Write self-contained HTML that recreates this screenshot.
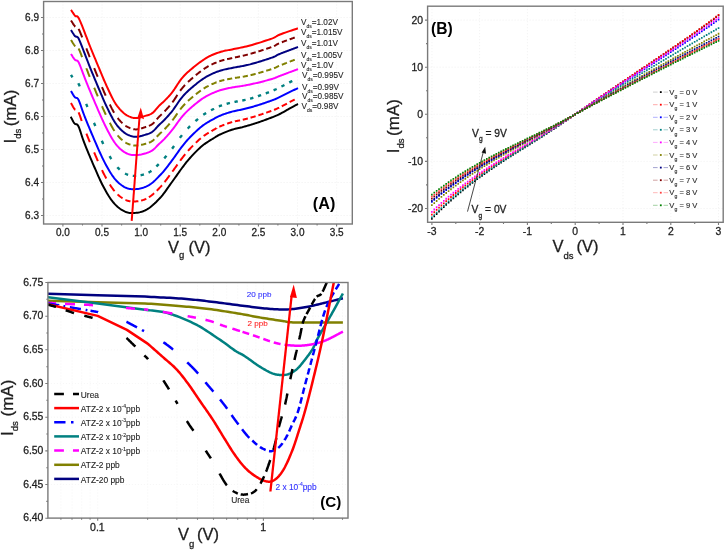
<!DOCTYPE html>
<html><head><meta charset="utf-8"><style>
html,body{margin:0;padding:0;background:#fff;}
body{width:725px;height:550px;overflow:hidden;}
svg{display:block;font-family:"Liberation Sans", sans-serif;}
svg{will-change:transform;}
</style></head><body>
<svg width="725" height="550" viewBox="0 0 725 550">
<rect width="725" height="550" fill="#fff"/>
<path d="M62.9,1.5 V224.0 M102.0,1.5 V224.0 M141.1,1.5 V224.0 M180.2,1.5 V224.0 M219.3,1.5 V224.0 M258.4,1.5 V224.0 M297.5,1.5 V224.0 M336.6,1.5 V224.0 M43.6,215.5 H352.3 M43.6,182.5 H352.3 M43.6,149.5 H352.3 M43.6,116.5 H352.3 M43.6,83.5 H352.3 M43.6,50.5 H352.3 M43.6,17.5 H352.3" stroke="#ececec" stroke-width="0.8" stroke-dasharray="1 2" fill="none"/>
<path d="M70.70,116.70 L70.93,117.12 L71.22,117.67 L71.56,118.34 L71.94,119.08 L72.36,119.88 L72.79,120.68 L73.23,121.47 L73.67,122.20 L74.10,122.86 L74.50,123.40 L74.88,123.78 L75.24,124.00 L75.61,124.10 L75.97,124.16 L76.33,124.21 L76.71,124.30 L77.09,124.50 L77.50,124.84 L77.94,125.39 L78.40,126.20 L78.88,127.25 L79.36,128.48 L79.86,129.86 L80.37,131.39 L80.90,133.04 L81.46,134.79 L82.05,136.63 L82.69,138.52 L83.37,140.45 L84.10,142.40 L84.90,144.43 L85.76,146.58 L86.67,148.84 L87.62,151.17 L88.61,153.55 L89.61,155.96 L90.62,158.36 L91.63,160.73 L92.63,163.06 L93.60,165.30 L94.56,167.50 L95.52,169.71 L96.48,171.92 L97.44,174.11 L98.40,176.28 L99.36,178.40 L100.32,180.48 L101.28,182.50 L102.24,184.44 L103.20,186.30 L104.15,188.09 L105.10,189.83 L106.05,191.52 L107.00,193.15 L107.95,194.72 L108.90,196.24 L109.85,197.68 L110.80,199.06 L111.75,200.37 L112.70,201.60 L113.66,202.76 L114.61,203.84 L115.57,204.86 L116.53,205.80 L117.49,206.68 L118.45,207.50 L119.41,208.26 L120.37,208.96 L121.34,209.61 L122.30,210.20 L123.25,210.74 L124.16,211.22 L125.07,211.65 L125.97,212.02 L126.88,212.32 L127.81,212.58 L128.77,212.77 L129.78,212.90 L130.86,212.98 L132.00,213.00 L133.23,212.98 L134.52,212.92 L135.88,212.81 L137.29,212.65 L138.73,212.43 L140.19,212.13 L141.66,211.74 L143.13,211.27 L144.58,210.69 L146.00,210.00 L147.41,209.18 L148.83,208.24 L150.26,207.19 L151.70,206.04 L153.12,204.81 L154.54,203.52 L155.95,202.18 L157.33,200.80 L158.68,199.40 L160.00,198.00 L161.29,196.55 L162.56,195.02 L163.81,193.43 L165.04,191.79 L166.25,190.12 L167.44,188.45 L168.61,186.78 L169.76,185.14 L170.89,183.54 L172.00,182.00 L173.09,180.50 L174.16,179.01 L175.21,177.53 L176.24,176.06 L177.25,174.62 L178.24,173.22 L179.21,171.84 L180.16,170.51 L181.09,169.23 L182.00,168.00 L182.86,166.85 L183.66,165.78 L184.42,164.77 L185.15,163.81 L185.88,162.88 L186.61,161.95 L187.37,161.02 L188.18,160.06 L189.05,159.06 L190.00,158.00 L191.04,156.86 L192.14,155.66 L193.31,154.42 L194.51,153.15 L195.75,151.88 L197.01,150.61 L198.27,149.37 L199.54,148.18 L200.78,147.05 L202.00,146.00 L203.23,145.02 L204.50,144.07 L205.79,143.16 L207.09,142.30 L208.38,141.47 L209.63,140.68 L210.84,139.94 L211.98,139.25 L213.04,138.60 L214.00,138.00 L214.82,137.47 L215.49,137.03 L216.06,136.66 L216.56,136.33 L217.02,136.04 L217.48,135.77 L217.97,135.50 L218.53,135.20 L219.20,134.88 L220.00,134.50 L220.94,134.07 L221.98,133.61 L223.09,133.12 L224.27,132.62 L225.49,132.11 L226.75,131.61 L228.01,131.12 L229.27,130.64 L230.50,130.20 L231.70,129.80 L232.87,129.44 L234.04,129.11 L235.21,128.82 L236.38,128.54 L237.54,128.28 L238.71,128.02 L239.88,127.76 L241.05,127.49 L242.23,127.21 L243.40,126.90 L244.58,126.58 L245.76,126.25 L246.94,125.91 L248.12,125.57 L249.30,125.23 L250.48,124.87 L251.66,124.51 L252.84,124.15 L254.02,123.78 L255.20,123.40 L256.37,123.02 L257.55,122.63 L258.72,122.23 L259.89,121.83 L261.06,121.42 L262.22,121.01 L263.39,120.59 L264.56,120.17 L265.73,119.74 L266.90,119.30 L268.07,118.86 L269.24,118.43 L270.41,117.99 L271.58,117.55 L272.75,117.10 L273.92,116.64 L275.09,116.16 L276.26,115.66 L277.43,115.15 L278.60,114.60 L279.79,114.01 L281.00,113.38 L282.24,112.71 L283.47,112.01 L284.70,111.31 L285.91,110.61 L287.08,109.93 L288.22,109.28 L289.29,108.66 L290.30,108.10 L291.27,107.57 L292.22,107.06 L293.15,106.56 L294.04,106.09 L294.88,105.64 L295.67,105.23 L296.38,104.85 L297.02,104.52 L297.56,104.23 L298.00,104.00" stroke="#000" stroke-width="2" fill="none" stroke-linejoin="round"/>
<path d="M71.00,102.98 L71.25,103.46 L71.50,103.93 L71.75,104.41 L72.00,104.88 L72.25,105.34 L72.50,105.80 L72.75,106.25 L73.00,106.71 L73.33,107.26 L73.67,107.81 L74.00,108.36 L74.33,108.75 L74.67,109.15 L75.00,109.55 L75.37,109.69 M78.54,112.32 L78.75,112.75 L79.00,113.25 L79.20,113.78 L79.40,114.32 L79.60,114.86 L79.80,115.39 L80.00,115.93 L80.17,116.42 L80.33,116.92 L80.50,117.42 L80.67,117.92 L80.83,118.42 L81.00,118.92 L81.17,119.42 L81.33,119.93 L81.50,120.44 L81.67,120.94 L81.70,121.06 M86.36,133.62 L86.40,133.72 L86.60,134.22 L86.80,134.72 L87.00,135.22 L87.20,135.72 L87.40,136.21 L87.60,136.71 L87.80,137.21 L88.00,137.70 L88.20,138.19 L88.40,138.68 L88.60,139.17 L88.80,139.66 L89.00,140.15 L89.20,140.64 L89.40,141.12 L89.60,141.61 L89.80,142.09 L89.86,142.24 M94.18,152.49 L94.20,152.54 L94.40,153.01 L94.60,153.47 L94.80,153.94 L95.00,154.41 L95.20,154.88 L95.40,155.35 L95.60,155.81 L95.80,156.28 L96.00,156.75 L96.20,157.21 L96.40,157.68 L96.60,158.14 L96.80,158.61 L97.00,159.07 L97.20,159.53 L97.40,159.99 L97.60,160.45 L97.80,160.91 L97.85,161.04 M102.00,170.16 L102.25,170.67 L102.50,171.18 L102.75,171.69 L103.00,172.20 L103.25,172.70 L103.50,173.19 L103.75,173.68 L104.00,174.18 L104.25,174.66 L104.50,175.13 L104.75,175.61 L105.00,176.09 L105.25,176.56 L105.50,177.03 L105.75,177.49 L106.00,177.96 L106.25,178.41 L106.26,178.43 M109.82,184.50 L110.00,184.79 L110.33,185.30 L110.67,185.81 L111.00,186.33 L111.33,186.81 L111.67,187.30 L112.00,187.78 L112.33,188.24 L112.67,188.70 L113.00,189.15 L113.33,189.58 L113.67,190.01 L114.00,190.44 L114.33,190.84 L114.61,191.17 M117.64,194.39 L118.00,194.74 L118.50,195.18 L119.00,195.62 L119.50,196.04 L120.00,196.45 L120.50,196.82 L121.00,197.20 L121.50,197.55 L122.00,197.90 L122.50,198.23 L122.54,198.25 M125.46,199.90 L125.50,199.91 L126.00,200.15 L126.50,200.34 L127.00,200.53 L127.50,200.68 L128.00,200.84 L128.50,200.96 L129.00,201.08 L129.50,201.17 L130.00,201.25 L130.47,201.31 M133.28,201.48 L133.50,201.49 L134.00,201.49 L134.50,201.48 L135.00,201.46 L135.50,201.44 L136.00,201.41 L136.50,201.37 L137.00,201.32 L137.50,201.27 L138.00,201.21 L138.39,201.15 M141.10,200.63 L141.50,200.52 L142.00,200.39 L142.50,200.24 L143.00,200.10 L143.50,199.92 L144.00,199.74 L144.50,199.54 L145.00,199.34 L145.50,199.12 L146.00,198.90 L146.32,198.74 M148.92,197.26 L149.00,197.21 L149.50,196.88 L150.00,196.54 L150.50,196.18 L151.00,195.82 L151.50,195.44 L152.00,195.05 L152.50,194.64 L153.00,194.23 L153.50,193.79 L154.00,193.34 L154.16,193.20 M156.74,190.72 L157.00,190.47 L157.50,189.96 L158.00,189.45 L158.50,188.94 L159.00,188.43 L159.50,187.91 L160.00,187.40 L160.50,186.86 L161.00,186.33 L161.33,185.95 L161.67,185.58 L161.97,185.25 M164.56,182.10 L164.67,181.96 L165.00,181.54 L165.33,181.10 L165.67,180.66 L166.00,180.23 L166.33,179.78 L166.67,179.34 L167.00,178.89 L167.33,178.44 L167.67,177.99 L168.00,177.54 L168.33,177.08 L168.67,176.63 L169.00,176.17 L169.33,175.71 L169.66,175.27 M172.38,171.58 L172.67,171.20 L173.00,170.75 L173.33,170.29 L173.67,169.84 L174.00,169.38 L174.33,168.91 L174.67,168.45 L175.00,167.99 L175.33,167.52 L175.67,167.05 L176.00,166.58 L176.33,166.11 L176.67,165.64 L177.00,165.16 L177.33,164.69 L177.46,164.51 M180.20,160.70 L180.33,160.51 L180.67,160.06 L181.00,159.61 L181.33,159.17 L181.67,158.73 L182.00,158.29 L182.33,157.86 L182.67,157.43 L183.00,157.00 L183.33,156.57 L183.67,156.14 L184.00,155.71 L184.33,155.29 L184.67,154.87 L185.00,154.44 L185.18,154.22 M188.02,150.85 L188.50,150.32 L189.00,149.77 L189.50,149.24 L190.00,148.70 L190.50,148.18 L191.00,147.66 L191.50,147.14 L192.00,146.62 L192.50,146.11 L193.00,145.60 L193.05,145.55 M195.84,142.78 L196.00,142.62 L196.50,142.14 L197.00,141.66 L197.50,141.19 L198.00,140.72 L198.50,140.27 L199.00,139.81 L199.50,139.37 L200.00,138.93 L200.50,138.50 L200.81,138.23 M203.66,136.00 L204.00,135.75 L204.50,135.41 L205.00,135.06 L205.50,134.73 L206.00,134.40 L206.50,134.08 L207.00,133.76 L207.50,133.45 L208.00,133.14 L208.50,132.84 L208.69,132.73 M211.48,131.11 L211.50,131.09 L212.00,130.81 L212.50,130.52 L213.00,130.24 L213.50,129.95 L214.00,129.66 L214.50,129.36 L215.00,129.06 L215.50,128.75 L216.00,128.45 L216.50,128.16 L216.50,128.15 M219.30,126.73 L219.50,126.64 L220.00,126.43 L220.50,126.22 L221.00,126.01 L221.50,125.80 L222.00,125.60 L222.50,125.40 L223.00,125.20 L223.50,125.01 L224.00,124.81 L224.36,124.68 M227.12,123.67 L227.50,123.54 L228.00,123.36 L228.50,123.19 L229.00,123.03 L229.50,122.87 L230.00,122.70 L230.50,122.55 L231.00,122.39 L231.50,122.25 L232.00,122.10 L232.17,122.05 M234.94,121.36 L235.00,121.34 L235.50,121.24 L236.00,121.13 L236.50,121.03 L237.00,120.92 L237.50,120.82 L238.00,120.72 L238.50,120.62 L239.00,120.52 L239.50,120.43 L240.00,120.33 L240.03,120.32 M242.76,119.73 L243.00,119.67 L243.50,119.55 L244.00,119.43 L244.50,119.30 L245.00,119.18 L245.50,119.05 L246.00,118.92 L246.50,118.80 L247.00,118.67 L247.50,118.53 L247.85,118.44 M250.58,117.70 L251.00,117.58 L251.50,117.43 L252.00,117.29 L252.50,117.14 L253.00,117.00 L253.50,116.85 L254.00,116.70 L254.50,116.55 L255.00,116.40 L255.50,116.25 L255.67,116.19 M258.40,115.34 L258.50,115.31 L259.00,115.15 L259.50,114.98 L260.00,114.82 L260.50,114.66 L261.00,114.49 L261.50,114.33 L262.00,114.16 L262.50,113.99 L263.00,113.82 L263.49,113.65 M266.22,112.71 L266.50,112.61 L267.00,112.43 L267.50,112.25 L268.00,112.08 L268.50,111.90 L269.00,111.72 L269.50,111.55 L270.00,111.37 L270.50,111.19 L271.00,111.01 L271.31,110.90 M274.04,109.88 L274.50,109.70 L275.00,109.50 L275.50,109.29 L276.00,109.07 L276.50,108.86 L277.00,108.64 L277.50,108.41 L278.00,108.19 L278.50,107.96 L279.00,107.73 L279.16,107.65 M281.86,106.32 L282.00,106.24 L282.50,105.98 L283.00,105.72 L283.50,105.45 L284.00,105.19 L284.50,104.92 L285.00,104.65 L285.50,104.38 L286.00,104.11 L286.50,103.83 L286.94,103.59 M289.68,102.12 L290.00,101.95 L290.50,101.70 L291.00,101.44 L291.50,101.19 L292.00,100.93 L292.50,100.68 L293.00,100.43 L293.50,100.18 L294.00,99.93 L294.50,99.68 L294.76,99.55" stroke="#ff0000" stroke-width="2" fill="none" stroke-linecap="butt"/>
<path d="M71.00,90.96 L72.00,92.78 L73.00,94.54 L74.00,96.14 L75.00,97.31 L76.00,97.71 L77.00,97.90 L78.00,98.88 L79.00,100.82 L80.00,103.40 L81.00,106.28 L82.00,109.21 L83.00,112.05 L84.00,114.73 L85.00,117.29 L86.00,119.80 L87.00,122.30 L88.00,124.76 L89.00,127.20 L90.00,129.62 L91.00,132.00 L92.00,134.37 L93.00,136.71 L94.00,139.04 L95.00,141.37 L96.00,143.69 L97.00,146.00 L98.00,148.28 L99.00,150.54 L100.00,152.77 L101.00,154.94 L102.00,157.07 L103.00,159.14 L104.00,161.14 L105.00,163.09 L106.00,164.98 L107.00,166.81 L108.00,168.58 L109.00,170.30 L110.00,171.95 L111.00,173.54 L112.00,175.05 L113.00,176.47 L114.00,177.81 L115.00,179.05 L116.00,180.20 L117.00,181.27 L118.00,182.25 L119.00,183.16 L120.00,184.00 L121.00,184.78 L122.00,185.50 L123.00,186.16 L124.00,186.78 L125.00,187.32 L126.00,187.79 L127.00,188.19 L128.00,188.50 L129.00,188.75 L130.00,188.94 L131.00,189.08 L132.00,189.17 L133.00,189.21 L134.00,189.22 L135.00,189.19 L136.00,189.12 L137.00,189.02 L138.00,188.91 L139.00,188.76 L140.00,188.57 L141.00,188.34 L142.00,188.08 L143.00,187.78 L144.00,187.43 L145.00,187.05 L146.00,186.64 L147.00,186.16 L148.00,185.64 L149.00,185.08 L150.00,184.46 L151.00,183.77 L152.00,183.03 L153.00,182.22 L154.00,181.33 L155.00,180.39 L156.00,179.40 L157.00,178.38 L158.00,177.35 L159.00,176.32 L160.00,175.30 L161.00,174.26 L162.00,173.18 L163.00,172.05 L164.00,170.87 L165.00,169.64 L166.00,168.37 L167.00,167.08 L168.00,165.77 L169.00,164.45 L170.00,163.12 L171.00,161.79 L172.00,160.46 L173.00,159.13 L174.00,157.75 L175.00,156.35 L176.00,154.93 L177.00,153.50 L178.00,152.07 L179.00,150.66 L180.00,149.27 L181.00,147.92 L182.00,146.61 L183.00,145.34 L184.00,144.08 L185.00,142.85 L186.00,141.66 L187.00,140.51 L188.00,139.40 L189.00,138.33 L190.00,137.29 L191.00,136.28 L192.00,135.28 L193.00,134.29 L194.00,133.31 L195.00,132.35 L196.00,131.40 L197.00,130.47 L198.00,129.56 L199.00,128.67 L200.00,127.81 L201.00,126.98 L202.00,126.17 L203.00,125.42 L204.00,124.71 L205.00,124.02 L206.00,123.37 L207.00,122.74 L208.00,122.13 L209.00,121.55 L210.00,120.97 L211.00,120.41 L212.00,119.86 L213.00,119.31 L214.00,118.76 L215.00,118.19 L216.00,117.63 L217.00,117.07 L218.00,116.57 L219.00,116.13 L220.00,115.71 L221.00,115.31 L222.00,114.92 L223.00,114.55 L224.00,114.18 L225.00,113.83 L226.00,113.49 L227.00,113.16 L228.00,112.84 L229.00,112.53 L230.00,112.23 L231.00,111.94 L232.00,111.66 L233.00,111.40 L234.00,111.16 L235.00,110.94 L236.00,110.73 L237.00,110.52 L238.00,110.33 L239.00,110.13 L240.00,109.94 L241.00,109.73 L242.00,109.52 L243.00,109.30 L244.00,109.06 L245.00,108.82 L246.00,108.57 L247.00,108.32 L248.00,108.06 L249.00,107.79 L250.00,107.52 L251.00,107.24 L252.00,106.96 L253.00,106.67 L254.00,106.37 L255.00,106.08 L256.00,105.77 L257.00,105.46 L258.00,105.15 L259.00,104.84 L260.00,104.52 L261.00,104.19 L262.00,103.86 L263.00,103.53 L264.00,103.19 L265.00,102.85 L266.00,102.51 L267.00,102.16 L268.00,101.81 L269.00,101.46 L270.00,101.11 L271.00,100.75 L272.00,100.39 L273.00,100.02 L274.00,99.63 L275.00,99.22 L276.00,98.78 L277.00,98.31 L278.00,97.85 L279.00,97.40 L280.00,96.93 L281.00,96.45 L282.00,95.96 L283.00,95.46 L284.00,94.96 L285.00,94.45 L286.00,93.94 L287.00,93.42 L288.00,92.91 L289.00,92.40 L290.00,91.90 L291.00,91.42 L292.00,90.94 L293.00,90.46 L294.00,89.98 L295.00,89.51 L296.00,89.04 L297.00,88.57 L298.00,88.10" stroke="#0000ff" stroke-width="2" fill="none" stroke-linejoin="round"/>
<path d="M71.00,74.85 L71.25,75.30 L71.50,75.74 L71.75,76.18 L72.00,76.63 L72.33,77.20 L72.43,77.37 M78.31,83.31 L78.50,83.68 L78.75,84.16 L79.00,84.63 L79.20,85.13 L79.40,85.63 L79.60,86.13 L79.71,86.41 M86.18,103.82 L86.20,103.88 L86.40,104.38 L86.60,104.89 L86.80,105.39 L87.00,105.90 L87.20,106.40 L87.40,106.90 L87.43,106.98 M93.98,122.87 L94.00,122.90 L94.20,123.37 L94.40,123.85 L94.60,124.32 L94.80,124.79 L95.00,125.26 L95.20,125.73 L95.31,126.00 M101.79,140.83 L102.00,141.29 L102.25,141.82 L102.50,142.36 L102.75,142.90 L103.00,143.43 L103.23,143.91 M109.57,156.12 L109.75,156.43 L110.00,156.87 L110.33,157.44 L110.67,158.00 L111.00,158.57 L111.30,159.05 M117.30,167.21 L117.50,167.43 L118.00,167.96 L118.50,168.45 L119.00,168.94 L119.50,169.40 L119.72,169.60 M125.02,173.50 L125.50,173.75 L126.00,174.02 L126.50,174.24 L127.00,174.46 L127.50,174.65 L128.00,174.83 L128.12,174.87 M132.78,175.81 L133.00,175.83 L133.50,175.86 L134.00,175.88 L134.50,175.88 L135.00,175.88 L135.50,175.86 L136.00,175.84 L136.18,175.83 M140.61,175.26 L141.00,175.18 L141.50,175.06 L142.00,174.94 L142.50,174.81 L143.00,174.67 L143.50,174.51 L143.90,174.39 M148.47,172.57 L148.50,172.55 L149.00,172.31 L149.50,172.03 L150.00,171.76 L150.50,171.45 L151.00,171.14 L151.41,170.86 M156.39,166.48 L156.50,166.37 L157.00,165.86 L157.50,165.34 L158.00,164.83 L158.50,164.32 L158.77,164.05 M164.23,158.39 L164.33,158.28 L164.67,157.89 L165.00,157.50 L165.33,157.10 L165.67,156.70 L166.00,156.30 L166.33,155.90 L166.42,155.79 M172.08,148.67 L172.33,148.34 L172.67,147.90 L173.00,147.47 L173.33,147.02 L173.67,146.56 L174.00,146.11 L174.12,145.95 M179.90,137.84 L180.00,137.70 L180.33,137.26 L180.67,136.82 L181.00,136.38 L181.33,135.95 L181.67,135.53 L181.97,135.14 M187.67,128.57 L188.00,128.23 L188.50,127.73 L189.00,127.22 L189.50,126.73 L190.00,126.24 L190.08,126.17 M195.47,121.15 L195.50,121.12 L196.00,120.67 L196.50,120.23 L197.00,119.79 L197.50,119.36 L198.00,118.93 L198.02,118.91 M203.25,114.83 L203.50,114.66 L204.00,114.32 L204.50,113.99 L205.00,113.67 L205.50,113.36 L206.00,113.04 L206.10,112.98 M211.03,110.24 L211.50,110.00 L212.00,109.75 L212.50,109.50 L213.00,109.24 L213.50,108.99 L214.00,108.74 L214.07,108.70 M218.83,106.43 L219.00,106.37 L219.50,106.18 L220.00,105.99 L220.50,105.81 L221.00,105.63 L221.50,105.45 L222.00,105.28 L222.03,105.27 M226.64,103.84 L227.00,103.74 L227.50,103.60 L228.00,103.46 L228.50,103.33 L229.00,103.20 L229.50,103.07 L229.92,102.96 M234.45,101.92 L234.50,101.91 L235.00,101.81 L235.50,101.72 L236.00,101.63 L236.50,101.54 L237.00,101.45 L237.50,101.36 L237.79,101.31 M242.27,100.52 L242.50,100.47 L243.00,100.37 L243.50,100.27 L244.00,100.16 L244.50,100.05 L245.00,99.94 L245.50,99.83 L245.60,99.81 M250.10,98.74 L250.50,98.62 L251.00,98.46 L251.50,98.31 L252.00,98.15 L252.50,97.99 L253.00,97.83 L253.34,97.72 M257.93,96.19 L258.00,96.16 L258.50,95.99 L259.00,95.81 L259.50,95.64 L260.00,95.46 L260.50,95.29 L261.00,95.11 L261.14,95.06 M265.75,93.37 L266.00,93.28 L266.50,93.09 L267.00,92.90 L267.50,92.71 L268.00,92.53 L268.50,92.34 L268.93,92.17 M273.58,90.34 L274.00,90.16 L274.50,89.93 L275.00,89.70 L275.50,89.45 L276.00,89.21 L276.50,88.95 L276.65,88.87 M281.41,86.50 L281.50,86.46 L282.00,86.21 L282.50,85.96 L283.00,85.70 L283.50,85.45 L284.00,85.19 L284.44,84.96 M289.23,82.50 L289.50,82.36 L290.00,82.11 L290.50,81.87 L291.00,81.62 L291.50,81.38 L292.00,81.13 L292.28,81.00" stroke="#008080" stroke-width="2.4" fill="none" stroke-linecap="butt"/>
<path d="M71.00,53.92 L72.00,55.57 L73.00,57.19 L74.00,58.68 L75.00,59.89 L76.00,60.39 L77.00,60.43 L78.00,61.29 L79.00,63.08 L80.00,65.41 L81.00,68.01 L82.00,70.70 L83.00,73.36 L84.00,75.97 L85.00,78.51 L86.00,81.04 L87.00,83.56 L88.00,86.06 L89.00,88.53 L90.00,90.97 L91.00,93.37 L92.00,95.75 L93.00,98.11 L94.00,100.46 L95.00,102.80 L96.00,105.14 L97.00,107.47 L98.00,109.78 L99.00,112.07 L100.00,114.34 L101.00,116.60 L102.00,118.83 L103.00,121.02 L104.00,123.17 L105.00,125.26 L106.00,127.29 L107.00,129.25 L108.00,131.17 L109.00,133.07 L110.00,134.91 L111.00,136.70 L112.00,138.42 L113.00,140.05 L114.00,141.59 L115.00,143.02 L116.00,144.34 L117.00,145.55 L118.00,146.67 L119.00,147.70 L120.00,148.66 L121.00,149.55 L122.00,150.37 L123.00,151.14 L124.00,151.85 L125.00,152.48 L126.00,153.02 L127.00,153.49 L128.00,153.89 L129.00,154.22 L130.00,154.49 L131.00,154.73 L132.00,154.91 L133.00,155.04 L134.00,155.10 L135.00,155.10 L136.00,155.04 L137.00,154.93 L138.00,154.90 L139.00,154.80 L140.00,154.66 L141.00,154.48 L142.00,154.27 L143.00,154.03 L144.00,153.77 L145.00,153.49 L146.00,153.21 L147.00,152.89 L148.00,152.55 L149.00,152.17 L150.00,151.73 L151.00,151.21 L152.00,150.61 L153.00,149.89 L154.00,149.04 L155.00,148.11 L156.00,147.10 L157.00,146.07 L158.00,145.03 L159.00,144.05 L160.00,143.12 L161.00,142.21 L162.00,141.29 L163.00,140.34 L164.00,139.33 L165.00,138.27 L166.00,137.17 L167.00,136.07 L168.00,134.94 L169.00,133.79 L170.00,132.62 L171.00,131.42 L172.00,130.20 L173.00,128.94 L174.00,127.61 L175.00,126.23 L176.00,124.83 L177.00,123.41 L178.00,122.00 L179.00,120.62 L180.00,119.28 L181.00,117.99 L182.00,116.76 L183.00,115.60 L184.00,114.48 L185.00,113.40 L186.00,112.37 L187.00,111.37 L188.00,110.40 L189.00,109.47 L190.00,108.58 L191.00,107.70 L192.00,106.83 L193.00,105.98 L194.00,105.14 L195.00,104.31 L196.00,103.49 L197.00,102.68 L198.00,101.89 L199.00,101.12 L200.00,100.37 L201.00,99.64 L202.00,98.94 L203.00,98.27 L204.00,97.64 L205.00,97.03 L206.00,96.45 L207.00,95.89 L208.00,95.37 L209.00,94.86 L210.00,94.38 L211.00,93.91 L212.00,93.46 L213.00,93.02 L214.00,92.58 L215.00,92.15 L216.00,91.72 L217.00,91.31 L218.00,90.93 L219.00,90.60 L220.00,90.28 L221.00,89.97 L222.00,89.68 L223.00,89.41 L224.00,89.16 L225.00,88.92 L226.00,88.69 L227.00,88.47 L228.00,88.26 L229.00,88.06 L230.00,87.87 L231.00,87.67 L232.00,87.49 L233.00,87.31 L234.00,87.14 L235.00,86.97 L236.00,86.82 L237.00,86.68 L238.00,86.54 L239.00,86.40 L240.00,86.26 L241.00,86.12 L242.00,85.97 L243.00,85.81 L244.00,85.63 L245.00,85.46 L246.00,85.27 L247.00,85.08 L248.00,84.88 L249.00,84.67 L250.00,84.46 L251.00,84.25 L252.00,84.04 L253.00,83.82 L254.00,83.60 L255.00,83.38 L256.00,83.15 L257.00,82.91 L258.00,82.67 L259.00,82.43 L260.00,82.18 L261.00,81.93 L262.00,81.68 L263.00,81.42 L264.00,81.16 L265.00,80.90 L266.00,80.63 L267.00,80.36 L268.00,80.08 L269.00,79.81 L270.00,79.53 L271.00,79.25 L272.00,78.96 L273.00,78.65 L274.00,78.32 L275.00,77.95 L276.00,77.52 L277.00,77.07 L278.00,76.65 L279.00,76.27 L280.00,75.89 L281.00,75.52 L282.00,75.14 L283.00,74.76 L284.00,74.37 L285.00,73.99 L286.00,73.60 L287.00,73.21 L288.00,72.82 L289.00,72.44 L290.00,72.06 L291.00,71.69 L292.00,71.33 L293.00,70.97 L294.00,70.60 L295.00,70.24 L296.00,69.89 L297.00,69.53 L298.00,69.16" stroke="#ff00ff" stroke-width="2" fill="none" stroke-linejoin="round"/>
<path d="M71.00,39.96 L71.33,40.51 L71.67,41.06 L72.00,41.61 L72.33,42.15 L72.67,42.69 L73.00,43.23 L73.33,43.73 L73.67,44.24 L74.00,44.74 L74.33,45.17 L74.67,45.59 L75.00,46.02 L75.38,46.25 M78.54,48.51 L78.75,48.88 L79.00,49.33 L79.20,49.79 L79.40,50.25 L79.60,50.71 L79.80,51.17 L80.00,51.63 L80.20,52.14 L80.40,52.65 L80.60,53.16 L80.80,53.67 L81.00,54.19 L81.20,54.72 L81.40,55.25 L81.60,55.78 L81.80,56.31 L82.00,56.84 L82.09,57.09 M86.36,68.27 L86.40,68.38 L86.60,68.89 L86.80,69.41 L87.00,69.93 L87.20,70.44 L87.40,70.96 L87.60,71.47 L87.80,71.98 L88.00,72.50 L88.20,73.01 L88.40,73.51 L88.60,74.02 L88.80,74.53 L89.00,75.04 L89.20,75.54 L89.40,76.04 L89.60,76.54 L89.76,76.93 M94.18,87.73 L94.20,87.77 L94.40,88.26 L94.60,88.74 L94.80,89.22 L95.00,89.70 L95.20,90.18 L95.40,90.66 L95.60,91.14 L95.80,91.62 L96.00,92.10 L96.20,92.58 L96.40,93.06 L96.60,93.54 L96.80,94.01 L97.00,94.49 L97.20,94.97 L97.40,95.44 L97.60,95.92 L97.76,96.31 M102.00,106.23 L102.20,106.69 L102.40,107.15 L102.60,107.61 L102.80,108.07 L103.00,108.53 L103.25,109.09 L103.50,109.65 L103.75,110.22 L104.00,110.78 L104.25,111.33 L104.50,111.88 L104.75,112.43 L105.00,112.97 L105.25,113.51 L105.50,114.04 L105.75,114.57 L105.82,114.71 M109.82,122.81 L110.00,123.16 L110.25,123.64 L110.50,124.12 L110.75,124.59 L111.00,125.07 L111.25,125.53 L111.50,125.99 L111.75,126.45 L112.00,126.91 L112.25,127.35 L112.50,127.79 L112.75,128.22 L113.00,128.66 L113.33,129.21 L113.67,129.77 L114.00,130.32 L114.33,130.83 L114.38,130.91 M117.64,135.36 L117.67,135.39 L118.00,135.80 L118.33,136.17 L118.67,136.55 L119.00,136.92 L119.50,137.44 L120.00,137.97 L120.50,138.45 L121.00,138.94 L121.50,139.39 L122.00,139.84 L122.49,140.26 M125.46,142.48 L125.50,142.50 L126.00,142.81 L126.50,143.08 L127.00,143.35 L127.50,143.59 L128.00,143.82 L128.50,144.02 L129.00,144.23 L129.50,144.40 L130.00,144.58 L130.42,144.71 M133.28,145.38 L133.50,145.41 L134.00,145.47 L134.50,145.50 L135.00,145.53 L135.50,145.53 L136.00,145.52 L136.50,145.50 L137.00,145.47 L137.50,145.44 L138.00,145.42 L138.38,145.38 M141.10,144.94 L141.50,144.85 L142.00,144.73 L142.50,144.61 L143.00,144.48 L143.50,144.35 L144.00,144.21 L144.50,144.07 L145.00,143.93 L145.50,143.80 L146.00,143.66 L146.21,143.60 M148.92,142.72 L149.00,142.69 L149.50,142.48 L150.00,142.27 L150.50,142.02 L151.00,141.77 L151.50,141.48 L152.00,141.18 L152.50,140.82 L153.00,140.46 L153.50,140.03 L154.00,139.59 L154.32,139.29 M156.74,136.80 L157.00,136.52 L157.50,135.99 L158.00,135.46 L158.50,134.96 L159.00,134.46 L159.50,134.00 L160.00,133.53 L160.50,133.08 L161.00,132.63 L161.50,132.18 L161.83,131.89 M164.56,129.23 L165.00,128.77 L165.50,128.24 L166.00,127.70 L166.50,127.16 L167.00,126.62 L167.50,126.07 L168.00,125.52 L168.33,125.14 L168.67,124.77 L169.00,124.39 L169.33,124.01 L169.67,123.62 L169.74,123.54 M172.38,120.35 L172.67,119.99 L173.00,119.57 L173.33,119.12 L173.67,118.68 L174.00,118.23 L174.33,117.77 L174.67,117.30 L175.00,116.83 L175.33,116.36 L175.67,115.88 L176.00,115.40 L176.33,114.92 L176.67,114.44 L177.00,113.96 L177.33,113.48 L177.46,113.30 M180.20,109.51 L180.33,109.33 L180.67,108.90 L181.00,108.47 L181.33,108.06 L181.67,107.65 L182.00,107.24 L182.33,106.86 L182.67,106.47 L183.00,106.08 L183.50,105.53 L184.00,104.98 L184.50,104.45 L185.00,103.92 L185.12,103.80 M188.02,100.96 L188.50,100.52 L189.00,100.07 L189.50,99.62 L190.00,99.18 L190.50,98.75 L191.00,98.32 L191.50,97.90 L192.00,97.47 L192.50,97.05 L193.00,96.63 L193.06,96.58 M195.84,94.31 L196.00,94.18 L196.50,93.78 L197.00,93.38 L197.50,92.99 L198.00,92.60 L198.50,92.22 L199.00,91.84 L199.50,91.47 L200.00,91.10 L200.50,90.74 L200.85,90.49 M203.66,88.60 L204.00,88.38 L204.50,88.08 L205.00,87.77 L205.50,87.48 L206.00,87.19 L206.50,86.91 L207.00,86.63 L207.50,86.36 L208.00,86.10 L208.50,85.85 L208.67,85.76 M211.48,84.43 L211.50,84.42 L212.00,84.20 L212.50,83.98 L213.00,83.77 L213.50,83.56 L214.00,83.35 L214.50,83.14 L215.00,82.93 L215.50,82.73 L216.00,82.52 L216.50,82.32 L216.52,82.32 M219.30,81.35 L219.50,81.28 L220.00,81.13 L220.50,80.98 L221.00,80.83 L221.50,80.69 L222.00,80.55 L222.50,80.41 L223.00,80.28 L223.50,80.16 L224.00,80.04 L224.36,79.96 M227.12,79.36 L227.50,79.29 L228.00,79.19 L228.50,79.10 L229.00,79.00 L229.50,78.91 L230.00,78.81 L230.50,78.72 L231.00,78.63 L231.50,78.54 L232.00,78.45 L232.20,78.41 M234.94,77.94 L235.00,77.93 L235.50,77.85 L236.00,77.77 L236.50,77.69 L237.00,77.62 L237.50,77.55 L238.00,77.47 L238.50,77.40 L239.00,77.33 L239.50,77.25 L240.00,77.18 L240.03,77.18 M242.76,76.74 L243.00,76.70 L243.50,76.61 L244.00,76.53 L244.50,76.43 L245.00,76.34 L245.50,76.25 L246.00,76.15 L246.50,76.05 L247.00,75.95 L247.50,75.85 L247.85,75.78 M250.58,75.17 L251.00,75.07 L251.50,74.95 L252.00,74.82 L252.50,74.69 L253.00,74.56 L253.50,74.43 L254.00,74.30 L254.50,74.17 L255.00,74.04 L255.50,73.90 L255.67,73.86 M258.40,73.11 L258.50,73.08 L259.00,72.94 L259.50,72.80 L260.00,72.65 L260.50,72.51 L261.00,72.37 L261.50,72.22 L262.00,72.08 L262.50,71.93 L263.00,71.78 L263.49,71.64 M266.22,70.81 L266.50,70.72 L267.00,70.57 L267.50,70.41 L268.00,70.26 L268.50,70.10 L269.00,69.95 L269.50,69.79 L270.00,69.63 L270.50,69.47 L271.00,69.31 L271.32,69.20 M274.04,68.24 L274.50,68.04 L275.00,67.83 L275.50,67.58 L276.00,67.34 L276.50,67.08 L277.00,66.83 L277.50,66.59 L278.00,66.35 L278.50,66.14 L279.00,65.92 L279.08,65.89 M281.86,64.78 L282.00,64.72 L282.50,64.53 L283.00,64.33 L283.50,64.13 L284.00,63.93 L284.50,63.73 L285.00,63.53 L285.50,63.33 L286.00,63.13 L286.50,62.94 L286.94,62.76 M289.68,61.69 L290.00,61.56 L290.50,61.37 L291.00,61.18 L291.50,60.99 L292.00,60.80 L292.50,60.62 L293.00,60.43 L293.50,60.24 L294.00,60.06 L294.50,59.87 L294.76,59.77" stroke="#808000" stroke-width="2" fill="none" stroke-linecap="butt"/>
<path d="M71.00,30.08 L72.00,31.69 L73.00,33.28 L74.00,34.77 L75.00,36.06 L76.00,36.70 L77.00,36.70 L78.00,37.55 L79.00,39.31 L80.00,41.54 L81.00,44.03 L82.00,46.63 L83.00,49.25 L84.00,51.87 L85.00,54.48 L86.00,57.08 L87.00,59.68 L88.00,62.26 L89.00,64.82 L90.00,67.33 L91.00,69.81 L92.00,72.26 L93.00,74.69 L94.00,77.12 L95.00,79.54 L96.00,81.95 L97.00,84.35 L98.00,86.74 L99.00,89.11 L100.00,91.48 L101.00,93.83 L102.00,96.19 L103.00,98.52 L104.00,100.81 L105.00,103.05 L106.00,105.22 L107.00,107.33 L108.00,109.40 L109.00,111.45 L110.00,113.47 L111.00,115.44 L112.00,117.33 L113.00,119.15 L114.00,120.86 L115.00,122.46 L116.00,123.93 L117.00,125.27 L118.00,126.52 L119.00,127.68 L120.00,128.76 L121.00,129.77 L122.00,130.70 L123.00,131.59 L124.00,132.41 L125.00,133.14 L126.00,133.78 L127.00,134.35 L128.00,134.84 L129.00,135.27 L130.00,135.65 L131.00,135.99 L132.00,136.28 L133.00,136.50 L134.00,136.65 L135.00,136.71 L136.00,136.72 L137.00,136.66 L138.00,136.58 L139.00,136.44 L140.00,136.24 L141.00,136.00 L142.00,135.74 L143.00,135.45 L144.00,135.15 L145.00,134.84 L146.00,134.55 L147.00,134.25 L148.00,133.93 L149.00,133.57 L150.00,133.15 L151.00,132.64 L152.00,132.04 L153.00,131.29 L154.00,130.38 L155.00,129.37 L156.00,128.27 L157.00,127.15 L158.00,126.03 L159.00,124.99 L160.00,124.03 L161.00,123.12 L162.00,122.21 L163.00,121.28 L164.00,120.29 L165.00,119.25 L166.00,118.18 L167.00,117.10 L168.00,116.00 L169.00,114.88 L170.00,113.72 L171.00,112.52 L172.00,111.28 L173.00,109.99 L174.00,108.61 L175.00,107.17 L176.00,105.69 L177.00,104.20 L178.00,102.72 L179.00,101.27 L180.00,99.88 L181.00,98.55 L182.00,97.29 L183.00,96.12 L184.00,95.01 L185.00,93.94 L186.00,92.92 L187.00,91.94 L188.00,90.99 L189.00,90.08 L190.00,89.19 L191.00,88.32 L192.00,87.47 L193.00,86.62 L194.00,85.79 L195.00,84.97 L196.00,84.15 L197.00,83.34 L198.00,82.55 L199.00,81.78 L200.00,81.03 L201.00,80.29 L202.00,79.58 L203.00,78.89 L204.00,78.24 L205.00,77.60 L206.00,76.99 L207.00,76.41 L208.00,75.85 L209.00,75.33 L210.00,74.82 L211.00,74.34 L212.00,73.88 L213.00,73.44 L214.00,73.01 L215.00,72.59 L216.00,72.19 L217.00,71.80 L218.00,71.43 L219.00,71.09 L220.00,70.77 L221.00,70.46 L222.00,70.16 L223.00,69.89 L224.00,69.63 L225.00,69.40 L226.00,69.17 L227.00,68.96 L228.00,68.76 L229.00,68.56 L230.00,68.37 L231.00,68.17 L232.00,67.98 L233.00,67.78 L234.00,67.58 L235.00,67.39 L236.00,67.21 L237.00,67.03 L238.00,66.85 L239.00,66.68 L240.00,66.51 L241.00,66.33 L242.00,66.14 L243.00,65.95 L244.00,65.75 L245.00,65.54 L246.00,65.32 L247.00,65.10 L248.00,64.87 L249.00,64.63 L250.00,64.39 L251.00,64.11 L252.00,63.84 L253.00,63.56 L254.00,63.28 L255.00,62.99 L256.00,62.70 L257.00,62.40 L258.00,62.10 L259.00,61.80 L260.00,61.50 L261.00,61.19 L262.00,60.88 L263.00,60.56 L264.00,60.24 L265.00,59.92 L266.00,59.60 L267.00,59.27 L268.00,58.94 L269.00,58.60 L270.00,58.27 L271.00,57.92 L272.00,57.57 L273.00,57.20 L274.00,56.79 L275.00,56.32 L276.00,55.78 L277.00,55.22 L278.00,54.70 L279.00,54.25 L280.00,53.83 L281.00,53.43 L282.00,53.03 L283.00,52.64 L284.00,52.25 L285.00,51.86 L286.00,51.47 L287.00,51.08 L288.00,50.70 L289.00,50.31 L290.00,49.94 L291.00,49.56 L292.00,49.19 L293.00,48.82 L294.00,48.45 L295.00,48.08 L296.00,47.71 L297.00,47.34 L298.00,46.97" stroke="#000080" stroke-width="2" fill="none" stroke-linejoin="round"/>
<path d="M71.00,20.42 L71.33,20.95 L71.67,21.48 L72.00,22.01 L72.33,22.54 L72.67,23.06 L73.00,23.59 L73.33,24.09 L73.67,24.59 L74.00,25.08 L74.33,25.52 L74.67,25.97 L75.00,26.41 L75.39,26.68 M78.54,28.88 L78.75,29.25 L79.00,29.68 L79.25,30.23 L79.50,30.78 L79.75,31.33 L80.00,31.88 L80.20,32.37 L80.40,32.86 L80.60,33.35 L80.80,33.84 L81.00,34.33 L81.20,34.84 L81.40,35.36 L81.60,35.87 L81.80,36.38 L82.00,36.89 L82.20,37.42 L82.20,37.42 M86.36,48.34 L86.40,48.45 L86.60,48.98 L86.80,49.50 L87.00,50.03 L87.20,50.55 L87.40,51.08 L87.60,51.60 L87.80,52.13 L88.00,52.65 L88.20,53.17 L88.40,53.69 L88.60,54.21 L88.80,54.72 L89.00,55.24 L89.20,55.75 L89.40,56.26 L89.60,56.77 L89.70,57.02 M94.18,68.15 L94.20,68.20 L94.40,68.69 L94.60,69.18 L94.80,69.66 L95.00,70.15 L95.20,70.64 L95.40,71.13 L95.60,71.62 L95.80,72.11 L96.00,72.60 L96.20,73.08 L96.40,73.57 L96.60,74.06 L96.80,74.54 L97.00,75.03 L97.20,75.51 L97.40,76.00 L97.60,76.48 L97.71,76.75 M102.00,87.07 L102.20,87.55 L102.40,88.03 L102.60,88.51 L102.80,88.99 L103.00,89.46 L103.20,89.93 L103.40,90.41 L103.60,90.88 L103.80,91.35 L104.00,91.82 L104.20,92.28 L104.40,92.74 L104.60,93.20 L104.80,93.66 L105.00,94.12 L105.25,94.68 L105.50,95.23 L105.67,95.62 M109.82,104.48 L110.00,104.85 L110.25,105.36 L110.50,105.87 L110.75,106.38 L111.00,106.89 L111.25,107.39 L111.50,107.88 L111.75,108.37 L112.00,108.87 L112.25,109.34 L112.50,109.81 L112.75,110.28 L113.00,110.75 L113.25,111.20 L113.50,111.65 L113.75,112.09 L114.00,112.54 L114.11,112.73 M117.64,117.98 L117.67,118.01 L118.00,118.44 L118.33,118.85 L118.67,119.25 L119.00,119.66 L119.33,120.03 L119.67,120.41 L120.00,120.79 L120.50,121.32 L121.00,121.84 L121.50,122.34 L122.00,122.83 L122.47,123.27 M125.46,125.72 L125.50,125.74 L126.00,126.08 L126.50,126.38 L127.00,126.69 L127.50,126.95 L128.00,127.22 L128.50,127.46 L129.00,127.69 L129.50,127.91 L130.00,128.12 L130.41,128.27 M133.28,129.15 L133.50,129.19 L134.00,129.28 L134.50,129.33 L135.00,129.37 L135.50,129.39 L136.00,129.40 L136.50,129.39 L137.00,129.37 L137.50,129.31 L138.00,129.25 L138.41,129.17 M141.10,128.50 L141.50,128.37 L142.00,128.21 L142.50,128.05 L143.00,127.88 L143.50,127.71 L144.00,127.54 L144.50,127.37 L145.00,127.20 L145.50,127.04 L146.00,126.88 L146.19,126.82 M148.92,125.87 L149.00,125.84 L149.50,125.62 L150.00,125.41 L150.50,125.15 L151.00,124.88 L151.50,124.57 L152.00,124.25 L152.50,123.86 L153.00,123.47 L153.50,122.99 L154.00,122.51 L154.37,122.11 M156.74,119.40 L157.00,119.09 L157.33,118.70 L157.67,118.31 L158.00,117.92 L158.50,117.37 L159.00,116.83 L159.50,116.33 L160.00,115.84 L160.50,115.36 L161.00,114.89 L161.50,114.43 L161.78,114.18 M164.56,111.43 L165.00,110.96 L165.50,110.42 L166.00,109.88 L166.50,109.33 L167.00,108.79 L167.50,108.24 L168.00,107.68 L168.33,107.30 L168.67,106.92 L169.00,106.54 L169.33,106.15 L169.67,105.76 L169.76,105.65 M172.38,102.38 L172.67,102.00 L173.00,101.55 L173.33,101.08 L173.67,100.60 L174.00,100.13 L174.33,99.63 L174.67,99.14 L175.00,98.64 L175.33,98.13 L175.67,97.61 L176.00,97.10 L176.33,96.59 L176.67,96.07 L177.00,95.56 L177.33,95.04 L177.46,94.85 M180.20,90.81 L180.33,90.63 L180.67,90.17 L181.00,89.71 L181.33,89.28 L181.67,88.85 L182.00,88.42 L182.33,88.02 L182.67,87.62 L183.00,87.22 L183.33,86.84 L183.67,86.47 L184.00,86.09 L184.50,85.55 L185.00,85.01 L185.09,84.92 M188.02,82.01 L188.50,81.56 L189.00,81.09 L189.50,80.64 L190.00,80.19 L190.50,79.74 L191.00,79.30 L191.50,78.87 L192.00,78.43 L192.50,78.00 L193.00,77.57 L193.06,77.52 M195.84,75.18 L196.00,75.05 L196.50,74.64 L197.00,74.23 L197.50,73.82 L198.00,73.42 L198.50,73.02 L199.00,72.62 L199.50,72.23 L200.00,71.85 L200.50,71.47 L200.86,71.19 M203.66,69.18 L204.00,68.94 L204.50,68.61 L205.00,68.28 L205.50,67.96 L206.00,67.64 L206.50,67.33 L207.00,67.02 L207.50,66.73 L208.00,66.43 L208.50,66.15 L208.66,66.06 M211.48,64.60 L211.50,64.59 L212.00,64.35 L212.50,64.12 L213.00,63.89 L213.50,63.67 L214.00,63.44 L214.50,63.23 L215.00,63.01 L215.50,62.81 L216.00,62.60 L216.50,62.40 L216.52,62.39 M219.30,61.37 L219.50,61.30 L220.00,61.12 L220.50,60.96 L221.00,60.79 L221.50,60.63 L222.00,60.47 L222.50,60.32 L223.00,60.18 L223.50,60.04 L224.00,59.91 L224.35,59.82 M227.12,59.17 L227.50,59.08 L228.00,58.98 L228.50,58.87 L229.00,58.76 L229.50,58.66 L230.00,58.55 L230.50,58.44 L231.00,58.34 L231.50,58.23 L232.00,58.12 L232.21,58.07 M234.94,57.45 L235.00,57.44 L235.50,57.33 L236.00,57.22 L236.50,57.12 L237.00,57.01 L237.50,56.91 L238.00,56.80 L238.50,56.70 L239.00,56.59 L239.50,56.49 L240.00,56.38 L240.03,56.38 M242.76,55.78 L243.00,55.72 L243.50,55.61 L244.00,55.49 L244.50,55.37 L245.00,55.25 L245.50,55.13 L246.00,55.00 L246.50,54.87 L247.00,54.75 L247.50,54.62 L247.86,54.52 M250.58,53.76 L251.00,53.65 L251.50,53.50 L252.00,53.36 L252.50,53.22 L253.00,53.07 L253.50,52.92 L254.00,52.78 L254.50,52.63 L255.00,52.48 L255.50,52.32 L255.67,52.27 M258.40,51.43 L258.50,51.40 L259.00,51.25 L259.50,51.09 L260.00,50.93 L260.50,50.77 L261.00,50.61 L261.50,50.45 L262.00,50.29 L262.50,50.13 L263.00,49.97 L263.49,49.81 M266.22,48.90 L266.50,48.81 L267.00,48.64 L267.50,48.47 L268.00,48.30 L268.50,48.13 L269.00,47.96 L269.50,47.78 L270.00,47.61 L270.50,47.43 L271.00,47.25 L271.33,47.13 M274.04,46.05 L274.50,45.82 L275.00,45.58 L275.50,45.29 L276.00,45.00 L276.50,44.70 L277.00,44.39 L277.50,44.12 L278.00,43.85 L278.50,43.62 L279.00,43.39 L279.03,43.38 M281.86,42.24 L282.00,42.19 L282.50,41.99 L283.00,41.80 L283.50,41.62 L284.00,41.43 L284.50,41.24 L285.00,41.05 L285.50,40.87 L286.00,40.68 L286.50,40.50 L286.94,40.34 M289.68,39.34 L290.00,39.22 L290.50,39.04 L291.00,38.86 L291.50,38.69 L292.00,38.51 L292.50,38.33 L293.00,38.15 L293.50,37.97 L294.00,37.80 L294.50,37.62 L294.76,37.52" stroke="#800000" stroke-width="2" fill="none" stroke-linecap="butt"/>
<path d="M71.00,9.90 L71.25,10.27 L71.57,10.76 L71.95,11.34 L72.38,11.99 L72.84,12.69 L73.33,13.40 L73.82,14.10 L74.30,14.77 L74.77,15.38 L75.20,15.90 L75.58,16.24 L75.92,16.36 L76.22,16.35 L76.52,16.28 L76.83,16.24 L77.17,16.32 L77.57,16.58 L78.04,17.11 L78.61,17.99 L79.30,19.30 L80.13,21.10 L81.08,23.35 L82.13,25.96 L83.27,28.83 L84.45,31.89 L85.66,35.06 L86.88,38.23 L88.07,41.34 L89.22,44.29 L90.30,47.00 L91.34,49.55 L92.37,52.09 L93.39,54.59 L94.41,57.06 L95.41,59.47 L96.38,61.83 L97.34,64.13 L98.26,66.34 L99.15,68.47 L100.00,70.50 L100.80,72.41 L101.54,74.19 L102.23,75.86 L102.89,77.45 L103.54,78.99 L104.17,80.49 L104.82,81.97 L105.48,83.47 L106.17,85.01 L106.90,86.60 L107.67,88.26 L108.47,89.98 L109.29,91.73 L110.12,93.50 L110.97,95.25 L111.82,96.97 L112.67,98.64 L113.52,100.23 L114.37,101.72 L115.20,103.10 L116.03,104.37 L116.86,105.56 L117.69,106.68 L118.52,107.72 L119.34,108.71 L120.17,109.63 L120.99,110.49 L121.80,111.31 L122.60,112.08 L123.40,112.80 L124.19,113.47 L124.98,114.08 L125.77,114.62 L126.55,115.11 L127.33,115.56 L128.09,115.95 L128.84,116.31 L129.58,116.64 L130.30,116.93 L131.00,117.20 L131.67,117.44 L132.31,117.63 L132.93,117.79 L133.53,117.91 L134.12,117.99 L134.71,118.05 L135.30,118.07 L135.91,118.07 L136.54,118.05 L137.20,118.00 L137.88,117.92 L138.58,117.81 L139.30,117.66 L140.02,117.48 L140.76,117.28 L141.50,117.06 L142.25,116.83 L143.00,116.59 L143.75,116.34 L144.50,116.10 L145.26,115.87 L146.03,115.65 L146.81,115.44 L147.59,115.22 L148.38,114.99 L149.17,114.72 L149.94,114.42 L150.71,114.08 L151.46,113.67 L152.20,113.20 L152.92,112.64 L153.64,111.99 L154.34,111.27 L155.04,110.50 L155.72,109.70 L156.40,108.89 L157.07,108.08 L157.72,107.30 L158.37,106.57 L159.00,105.90 L159.61,105.30 L160.18,104.77 L160.72,104.27 L161.26,103.80 L161.79,103.34 L162.32,102.87 L162.87,102.38 L163.44,101.85 L164.05,101.26 L164.70,100.60 L165.38,99.89 L166.09,99.17 L166.81,98.43 L167.55,97.65 L168.32,96.83 L169.11,95.97 L169.92,95.05 L170.75,94.07 L171.61,93.02 L172.50,91.90 L173.41,90.66 L174.35,89.31 L175.30,87.86 L176.29,86.34 L177.29,84.78 L178.32,83.20 L179.38,81.64 L180.46,80.12 L181.57,78.66 L182.70,77.30 L183.87,76.01 L185.08,74.76 L186.32,73.54 L187.60,72.35 L188.89,71.19 L190.19,70.06 L191.50,68.96 L192.81,67.88 L194.11,66.83 L195.40,65.80 L196.68,64.79 L197.96,63.79 L199.24,62.82 L200.52,61.87 L201.80,60.95 L203.08,60.06 L204.36,59.21 L205.64,58.40 L206.92,57.62 L208.20,56.90 L209.47,56.23 L210.75,55.60 L212.02,55.02 L213.29,54.47 L214.56,53.96 L215.82,53.48 L217.09,53.03 L218.36,52.61 L219.63,52.20 L220.90,51.80 L222.15,51.44 L223.38,51.12 L224.59,50.84 L225.80,50.59 L227.02,50.36 L228.25,50.13 L229.52,49.90 L230.82,49.66 L232.18,49.40 L233.60,49.10 L235.07,48.79 L236.56,48.49 L238.08,48.19 L239.64,47.88 L241.24,47.56 L242.88,47.22 L244.57,46.85 L246.32,46.45 L248.13,46.00 L250.00,45.50 L252.02,44.93 L254.22,44.29 L256.54,43.58 L258.94,42.84 L261.36,42.08 L263.73,41.32 L266.01,40.57 L268.13,39.85 L270.05,39.19 L271.70,38.60 L273.03,38.09 L274.06,37.63 L274.87,37.23 L275.52,36.86 L276.09,36.51 L276.63,36.16 L277.23,35.80 L277.94,35.41 L278.84,34.98 L280.00,34.50 L281.48,33.94 L283.25,33.30 L285.23,32.60 L287.33,31.87 L289.47,31.14 L291.57,30.43 L293.54,29.77 L295.31,29.18 L296.79,28.68 L297.90,28.30" stroke="#ff0000" stroke-width="2" fill="none" stroke-linejoin="round"/>
<path d="M131.7,220.8 L139.6,116" stroke="#ff0000" stroke-width="2" fill="none"/>
<path d="M140.8,107.6 L144.0,119.2 L140.2,117.6 L137.0,118.9 Z" fill="#ff0000"/>
<rect x="43.6" y="1.5" width="308.7" height="222.5" fill="none" stroke="#7a7a7a" stroke-width="1.4"/>
<path d="M62.9,224.0 v2.6 M102.0,224.0 v2.6 M141.1,224.0 v2.6 M180.2,224.0 v2.6 M219.3,224.0 v2.6 M258.4,224.0 v2.6 M297.5,224.0 v2.6 M336.6,224.0 v2.6 M82.5,224.0 v1.6 M121.6,224.0 v1.6 M160.7,224.0 v1.6 M199.8,224.0 v1.6 M238.9,224.0 v1.6 M277.9,224.0 v1.6 M317.1,224.0 v1.6 M43.6,215.5 h-2.6 M43.6,182.5 h-2.6 M43.6,149.5 h-2.6 M43.6,116.5 h-2.6 M43.6,83.5 h-2.6 M43.6,50.5 h-2.6 M43.6,17.5 h-2.6 M43.6,199.0 h-1.6 M43.6,166.0 h-1.6 M43.6,133.0 h-1.6 M43.6,100.0 h-1.6 M43.6,67.0 h-1.6 M43.6,34.0 h-1.6" stroke="#7a7a7a" stroke-width="1.1" fill="none"/>
<text x="39" y="219.1" text-anchor="end" font-size="10" fill="#1e1e1e" stroke="#1e1e1e" stroke-width="0.28">6.3</text>
<text x="39" y="186.1" text-anchor="end" font-size="10" fill="#1e1e1e" stroke="#1e1e1e" stroke-width="0.28">6.4</text>
<text x="39" y="153.1" text-anchor="end" font-size="10" fill="#1e1e1e" stroke="#1e1e1e" stroke-width="0.28">6.5</text>
<text x="39" y="120.1" text-anchor="end" font-size="10" fill="#1e1e1e" stroke="#1e1e1e" stroke-width="0.28">6.6</text>
<text x="39" y="87.1" text-anchor="end" font-size="10" fill="#1e1e1e" stroke="#1e1e1e" stroke-width="0.28">6.7</text>
<text x="39" y="54.1" text-anchor="end" font-size="10" fill="#1e1e1e" stroke="#1e1e1e" stroke-width="0.28">6.8</text>
<text x="39" y="21.1" text-anchor="end" font-size="10" fill="#1e1e1e" stroke="#1e1e1e" stroke-width="0.28">6.9</text>
<text x="62.9" y="235.6" text-anchor="middle" font-size="10" fill="#1e1e1e" stroke="#1e1e1e" stroke-width="0.28">0.0</text>
<text x="102.0" y="235.6" text-anchor="middle" font-size="10" fill="#1e1e1e" stroke="#1e1e1e" stroke-width="0.28">0.5</text>
<text x="141.1" y="235.6" text-anchor="middle" font-size="10" fill="#1e1e1e" stroke="#1e1e1e" stroke-width="0.28">1.0</text>
<text x="180.2" y="235.6" text-anchor="middle" font-size="10" fill="#1e1e1e" stroke="#1e1e1e" stroke-width="0.28">1.5</text>
<text x="219.3" y="235.6" text-anchor="middle" font-size="10" fill="#1e1e1e" stroke="#1e1e1e" stroke-width="0.28">2.0</text>
<text x="258.4" y="235.6" text-anchor="middle" font-size="10" fill="#1e1e1e" stroke="#1e1e1e" stroke-width="0.28">2.5</text>
<text x="297.5" y="235.6" text-anchor="middle" font-size="10" fill="#1e1e1e" stroke="#1e1e1e" stroke-width="0.28">3.0</text>
<text x="336.6" y="235.6" text-anchor="middle" font-size="10" fill="#1e1e1e" stroke="#1e1e1e" stroke-width="0.28">3.5</text>
<text x="301" y="24.6" font-size="8.2" fill="#1e1e1e" stroke="#1e1e1e" stroke-width="0.1">V<tspan font-size="5" dy="3.2">ds</tspan><tspan dy="-3.2">=1.02V</tspan></text>
<text x="301" y="34.6" font-size="8.2" fill="#1e1e1e" stroke="#1e1e1e" stroke-width="0.1">V<tspan font-size="5" dy="3.2">ds</tspan><tspan dy="-3.2">=1.015V</tspan></text>
<text x="301" y="46.0" font-size="8.2" fill="#1e1e1e" stroke="#1e1e1e" stroke-width="0.1">V<tspan font-size="5" dy="3.2">ds</tspan><tspan dy="-3.2">=1.01V</tspan></text>
<text x="301" y="57.5" font-size="8.2" fill="#1e1e1e" stroke="#1e1e1e" stroke-width="0.1">V<tspan font-size="5" dy="3.2">ds</tspan><tspan dy="-3.2">=1.005V</tspan></text>
<text x="301" y="67.9" font-size="8.2" fill="#1e1e1e" stroke="#1e1e1e" stroke-width="0.1">V<tspan font-size="5" dy="3.2">ds</tspan><tspan dy="-3.2">=1.0V</tspan></text>
<text x="302" y="77.9" font-size="8.2" fill="#1e1e1e" stroke="#1e1e1e" stroke-width="0.1">V<tspan font-size="5" dy="3.2">ds</tspan><tspan dy="-3.2">=0.995V</tspan></text>
<text x="302" y="89.7" font-size="8.2" fill="#1e1e1e" stroke="#1e1e1e" stroke-width="0.1">V<tspan font-size="5" dy="3.2">ds</tspan><tspan dy="-3.2">=0.99V</tspan></text>
<text x="302" y="99.2" font-size="8.2" fill="#1e1e1e" stroke="#1e1e1e" stroke-width="0.1">V<tspan font-size="5" dy="3.2">ds</tspan><tspan dy="-3.2">=0.985V</tspan></text>
<text x="301.5" y="108.6" font-size="8.2" fill="#1e1e1e" stroke="#1e1e1e" stroke-width="0.1">V<tspan font-size="5" dy="3.2">ds</tspan><tspan dy="-3.2">=0.98V</tspan></text>
<text x="312.8" y="209.3" font-size="16.2" font-weight="bold" fill="#000">(A)</text>
<text x="168" y="253" font-size="16.5" fill="#1e1e1e" stroke="#1e1e1e" stroke-width="0.28">V<tspan font-size="9.5" dy="5.4">g</tspan><tspan dy="-5.4" dx="-0.5"> (V)</tspan></text>
<text transform="translate(15.6,143.6) rotate(-90)" font-size="17" fill="#1e1e1e" stroke="#1e1e1e" stroke-width="0.28">I<tspan font-size="9.5" dy="5">ds</tspan><tspan dy="-5" dx="-2.2"> (mA)</tspan></text>
<path d="M431.9,6.2 V222.3 M479.6,6.2 V222.3 M527.4,6.2 V222.3 M575.2,6.2 V222.3 M623.0,6.2 V222.3 M670.8,6.2 V222.3 M718.5,6.2 V222.3 M427.6,208.5 H723.2 M427.6,161.4 H723.2 M427.6,114.3 H723.2 M427.6,67.2 H723.2 M427.6,20.1 H723.2" stroke="#eeeeee" stroke-width="0.8" stroke-dasharray="1 2" fill="none"/>
<path d="M431.06,218.86h1.6M433.45,216.41h1.6M435.84,214.01h1.6M438.23,211.65h1.6M440.62,209.34h1.6M443.01,207.07h1.6M445.39,204.85h1.6M447.78,202.66h1.6M450.17,200.52h1.6M452.56,198.41h1.6M454.95,196.34h1.6M457.34,194.31h1.6M459.73,192.31h1.6M462.12,190.35h1.6M464.51,188.42h1.6M466.90,186.52h1.6M469.28,184.66h1.6M471.67,182.82h1.6M474.06,181.01h1.6M476.45,179.22h1.6M478.84,177.46h1.6M481.23,175.73h1.6M483.62,174.02h1.6M486.01,172.33h1.6M488.40,170.66h1.6M490.79,169.02h1.6M493.17,167.39h1.6M495.56,165.77h1.6M497.95,164.18h1.6M500.34,162.59h1.6M502.73,161.02h1.6M505.12,159.47h1.6M507.51,157.92h1.6M509.90,156.39h1.6M512.29,154.86h1.6M514.68,153.34h1.6M517.06,151.83h1.6M519.45,150.32h1.6M521.84,148.82h1.6M524.23,147.32h1.6M526.62,145.82h1.6M529.01,144.32h1.6M531.40,142.82h1.6M533.79,141.32h1.6M536.18,139.81h1.6M538.57,138.30h1.6M540.95,136.79h1.6M543.34,135.27h1.6M545.73,133.74h1.6M548.12,132.20h1.6M550.51,130.65h1.6M552.90,129.08h1.6M555.29,127.51h1.6M557.68,125.92h1.6M560.07,124.32h1.6M562.46,122.70h1.6M564.84,121.06h1.6M567.23,119.40h1.6M569.62,117.72h1.6M572.01,116.02h1.6M574.40,114.30h1.6M576.79,112.64h1.6M579.18,110.99h1.6M581.57,109.34h1.6M583.96,107.69h1.6M586.35,106.05h1.6M588.73,104.40h1.6M591.12,102.76h1.6M593.51,101.12h1.6M595.90,99.49h1.6M598.29,97.85h1.6M600.68,96.22h1.6M603.07,94.59h1.6M605.46,92.96h1.6M607.85,91.34h1.6M610.24,89.71h1.6M612.62,88.09h1.6M615.01,86.47h1.6M617.40,84.85h1.6M619.79,83.23h1.6M622.18,81.62h1.6M624.57,80.01h1.6M626.96,78.39h1.6M629.35,76.78h1.6M631.74,75.17h1.6M634.13,73.56h1.6M636.51,71.96h1.6M638.90,70.35h1.6M641.29,68.74h1.6M643.68,67.13h1.6M646.07,65.53h1.6M648.46,63.92h1.6M650.85,62.31h1.6M653.24,60.70h1.6M655.63,59.09h1.6M658.02,57.48h1.6M660.40,55.87h1.6M662.79,54.26h1.6M665.18,52.64h1.6M667.57,51.02h1.6M669.96,49.40h1.6M672.35,47.77h1.6M674.74,46.14h1.6M677.13,44.50h1.6M679.52,42.86h1.6M681.91,41.21h1.6M684.29,39.56h1.6M686.68,37.90h1.6M689.07,36.23h1.6M691.46,34.56h1.6M693.85,32.87h1.6M696.24,31.18h1.6M698.63,29.47h1.6M701.02,27.76h1.6M703.41,26.03h1.6M705.80,24.30h1.6M708.18,22.54h1.6M710.57,20.78h1.6M712.96,19.00h1.6M715.35,17.20h1.6M717.74,15.39h1.6" stroke="#000000" stroke-width="1.8" fill="none"/>
<path d="M431.06,214.62h1.6M433.45,212.27h1.6M435.84,209.97h1.6M438.23,207.71h1.6M440.62,205.49h1.6M443.01,203.31h1.6M445.39,201.17h1.6M447.78,199.08h1.6M450.17,197.02h1.6M452.56,195.00h1.6M454.95,193.02h1.6M457.34,191.07h1.6M459.73,189.15h1.6M462.12,187.27h1.6M464.51,185.42h1.6M466.90,183.60h1.6M469.28,181.80h1.6M471.67,180.04h1.6M474.06,178.30h1.6M476.45,176.59h1.6M478.84,174.90h1.6M481.23,173.24h1.6M483.62,171.60h1.6M486.01,169.98h1.6M488.40,168.38h1.6M490.79,166.80h1.6M493.17,165.23h1.6M495.56,163.69h1.6M497.95,162.15h1.6M500.34,160.64h1.6M502.73,159.13h1.6M505.12,157.64h1.6M507.51,156.16h1.6M509.90,154.68h1.6M512.29,153.22h1.6M514.68,151.76h1.6M517.06,150.31h1.6M519.45,148.86h1.6M521.84,147.42h1.6M524.23,145.98h1.6M526.62,144.54h1.6M529.01,143.10h1.6M531.40,141.67h1.6M533.79,140.22h1.6M536.18,138.78h1.6M538.57,137.33h1.6M540.95,135.88h1.6M543.34,134.42h1.6M545.73,132.95h1.6M548.12,131.47h1.6M550.51,129.98h1.6M552.90,128.49h1.6M555.29,126.97h1.6M557.68,125.45h1.6M560.07,123.91h1.6M562.46,122.35h1.6M564.84,120.78h1.6M567.23,119.19h1.6M569.62,117.58h1.6M572.01,115.95h1.6M574.40,114.30h1.6M576.79,112.64h1.6M579.18,110.98h1.6M581.57,109.32h1.6M583.96,107.66h1.6M586.35,106.01h1.6M588.73,104.36h1.6M591.12,102.71h1.6M593.51,101.06h1.6M595.90,99.42h1.6M598.29,97.77h1.6M600.68,96.13h1.6M603.07,94.50h1.6M605.46,92.86h1.6M607.85,91.23h1.6M610.24,89.59h1.6M612.62,87.96h1.6M615.01,86.34h1.6M617.40,84.71h1.6M619.79,83.09h1.6M622.18,81.46h1.6M624.57,79.84h1.6M626.96,78.22h1.6M629.35,76.60h1.6M631.74,74.99h1.6M634.13,73.37h1.6M636.51,71.75h1.6M638.90,70.14h1.6M641.29,68.52h1.6M643.68,66.91h1.6M646.07,65.30h1.6M648.46,63.68h1.6M650.85,62.07h1.6M653.24,60.45h1.6M655.63,58.83h1.6M658.02,57.21h1.6M660.40,55.59h1.6M662.79,53.97h1.6M665.18,52.35h1.6M667.57,50.72h1.6M669.96,49.09h1.6M672.35,47.45h1.6M674.74,45.81h1.6M677.13,44.17h1.6M679.52,42.52h1.6M681.91,40.86h1.6M684.29,39.20h1.6M686.68,37.53h1.6M689.07,35.86h1.6M691.46,34.18h1.6M693.85,32.48h1.6M696.24,30.78h1.6M698.63,29.07h1.6M701.02,27.35h1.6M703.41,25.61h1.6M705.80,23.87h1.6M708.18,22.11h1.6M710.57,20.33h1.6M712.96,18.54h1.6M715.35,16.74h1.6M717.74,14.92h1.6" stroke="#ff0000" stroke-width="1.8" fill="none"/>
<path d="M431.06,201.91h1.6M433.45,199.85h1.6M435.84,197.84h1.6M438.23,195.87h1.6M440.62,193.93h1.6M443.01,192.03h1.6M445.39,190.16h1.6M447.78,188.33h1.6M450.17,186.54h1.6M452.56,184.77h1.6M454.95,183.04h1.6M457.34,181.34h1.6M459.73,179.66h1.6M462.12,178.02h1.6M464.51,176.40h1.6M466.90,174.81h1.6M469.28,173.25h1.6M471.67,171.71h1.6M474.06,170.19h1.6M476.45,168.69h1.6M478.84,167.22h1.6M481.23,165.77h1.6M483.62,164.34h1.6M486.01,162.92h1.6M488.40,161.52h1.6M490.79,160.14h1.6M493.17,158.78h1.6M495.56,157.43h1.6M497.95,156.09h1.6M500.34,154.76h1.6M502.73,153.45h1.6M505.12,152.14h1.6M507.51,150.85h1.6M509.90,149.56h1.6M512.29,148.28h1.6M514.68,147.01h1.6M517.06,145.74h1.6M519.45,144.48h1.6M521.84,143.22h1.6M524.23,141.96h1.6M526.62,140.71h1.6M529.01,139.45h1.6M531.40,138.20h1.6M533.79,136.94h1.6M536.18,135.68h1.6M538.57,134.41h1.6M540.95,133.14h1.6M543.34,131.87h1.6M545.73,130.58h1.6M548.12,129.29h1.6M550.51,128.00h1.6M552.90,126.69h1.6M555.29,125.37h1.6M557.68,124.04h1.6M560.07,122.69h1.6M562.46,121.33h1.6M564.84,119.96h1.6M567.23,118.57h1.6M569.62,117.17h1.6M572.01,115.74h1.6M574.40,114.30h1.6M576.79,112.72h1.6M579.18,111.13h1.6M581.57,109.55h1.6M583.96,107.98h1.6M586.35,106.40h1.6M588.73,104.83h1.6M591.12,103.26h1.6M593.51,101.69h1.6M595.90,100.12h1.6M598.29,98.56h1.6M600.68,96.99h1.6M603.07,95.43h1.6M605.46,93.88h1.6M607.85,92.32h1.6M610.24,90.76h1.6M612.62,89.21h1.6M615.01,87.66h1.6M617.40,86.11h1.6M619.79,84.56h1.6M622.18,83.02h1.6M624.57,81.47h1.6M626.96,79.93h1.6M629.35,78.39h1.6M631.74,76.85h1.6M634.13,75.31h1.6M636.51,73.77h1.6M638.90,72.23h1.6M641.29,70.69h1.6M643.68,69.16h1.6M646.07,67.62h1.6M648.46,66.08h1.6M650.85,64.54h1.6M653.24,63.00h1.6M655.63,61.46h1.6M658.02,59.92h1.6M660.40,58.38h1.6M662.79,56.83h1.6M665.18,55.28h1.6M667.57,53.73h1.6M669.96,52.18h1.6M672.35,50.62h1.6M674.74,49.06h1.6M677.13,47.49h1.6M679.52,45.92h1.6M681.91,44.34h1.6M684.29,42.76h1.6M686.68,41.17h1.6M689.07,39.58h1.6M691.46,37.97h1.6M693.85,36.36h1.6M696.24,34.74h1.6M698.63,33.11h1.6M701.02,31.47h1.6M703.41,29.82h1.6M705.80,28.15h1.6M708.18,26.48h1.6M710.57,24.79h1.6M712.96,23.08h1.6M715.35,21.36h1.6M717.74,19.63h1.6" stroke="#0000ff" stroke-width="1.8" fill="none"/>
<path d="M431.06,217.45h1.6M433.45,215.03h1.6M435.84,212.66h1.6M438.23,210.34h1.6M440.62,208.06h1.6M443.01,205.82h1.6M445.39,203.62h1.6M447.78,201.47h1.6M450.17,199.35h1.6M452.56,197.27h1.6M454.95,195.23h1.6M457.34,193.23h1.6M459.73,191.26h1.6M462.12,189.32h1.6M464.51,187.42h1.6M466.90,185.55h1.6M469.28,183.70h1.6M471.67,181.89h1.6M474.06,180.10h1.6M476.45,178.35h1.6M478.84,176.61h1.6M481.23,174.90h1.6M483.62,173.21h1.6M486.01,171.55h1.6M488.40,169.90h1.6M490.79,168.28h1.6M493.17,166.67h1.6M495.56,165.08h1.6M497.95,163.50h1.6M500.34,161.94h1.6M502.73,160.39h1.6M505.12,158.86h1.6M507.51,157.33h1.6M509.90,155.82h1.6M512.29,154.31h1.6M514.68,152.82h1.6M517.06,151.32h1.6M519.45,149.84h1.6M521.84,148.35h1.6M524.23,146.87h1.6M526.62,145.39h1.6M529.01,143.92h1.6M531.40,142.44h1.6M533.79,140.95h1.6M536.18,139.47h1.6M538.57,137.98h1.6M540.95,136.49h1.6M543.34,134.98h1.6M545.73,133.47h1.6M548.12,131.95h1.6M550.51,130.43h1.6M552.90,128.88h1.6M555.29,127.33h1.6M557.68,125.76h1.6M560.07,124.18h1.6M562.46,122.58h1.6M564.84,120.97h1.6M567.23,119.33h1.6M569.62,117.67h1.6M572.01,116.00h1.6M574.40,114.30h1.6M576.79,112.80h1.6M579.18,111.31h1.6M581.57,109.81h1.6M583.96,108.32h1.6M586.35,106.83h1.6M588.73,105.35h1.6M591.12,103.86h1.6M593.51,102.38h1.6M595.90,100.90h1.6M598.29,99.42h1.6M600.68,97.94h1.6M603.07,96.46h1.6M605.46,94.99h1.6M607.85,93.52h1.6M610.24,92.05h1.6M612.62,90.59h1.6M615.01,89.12h1.6M617.40,87.66h1.6M619.79,86.20h1.6M622.18,84.74h1.6M624.57,83.28h1.6M626.96,81.83h1.6M629.35,80.38h1.6M631.74,78.93h1.6M634.13,77.48h1.6M636.51,76.03h1.6M638.90,74.59h1.6M641.29,73.15h1.6M643.68,71.71h1.6M646.07,70.27h1.6M648.46,68.84h1.6M650.85,67.40h1.6M653.24,65.97h1.6M655.63,64.54h1.6M658.02,63.11h1.6M660.40,61.69h1.6M662.79,60.27h1.6M665.18,58.85h1.6M667.57,57.43h1.6M669.96,56.01h1.6M672.35,54.59h1.6M674.74,53.18h1.6M677.13,51.77h1.6M679.52,50.36h1.6M681.91,48.96h1.6M684.29,47.55h1.6M686.68,46.15h1.6M689.07,44.75h1.6M691.46,43.35h1.6M693.85,41.95h1.6M696.24,40.56h1.6M698.63,39.17h1.6M701.02,37.78h1.6M703.41,36.39h1.6M705.80,35.00h1.6M708.18,33.62h1.6M710.57,32.24h1.6M712.96,30.86h1.6M715.35,29.48h1.6M717.74,28.11h1.6" stroke="#008080" stroke-width="1.8" fill="none"/>
<path d="M431.06,211.80h1.6M433.45,209.51h1.6M435.84,207.27h1.6M438.23,205.07h1.6M440.62,202.92h1.6M443.01,200.80h1.6M445.39,198.73h1.6M447.78,196.69h1.6M450.17,194.69h1.6M452.56,192.73h1.6M454.95,190.80h1.6M457.34,188.90h1.6M459.73,187.04h1.6M462.12,185.21h1.6M464.51,183.41h1.6M466.90,181.64h1.6M469.28,179.90h1.6M471.67,178.19h1.6M474.06,176.50h1.6M476.45,174.84h1.6M478.84,173.20h1.6M481.23,171.58h1.6M483.62,169.98h1.6M486.01,168.41h1.6M488.40,166.86h1.6M490.79,165.32h1.6M493.17,163.80h1.6M495.56,162.29h1.6M497.95,160.81h1.6M500.34,159.33h1.6M502.73,157.87h1.6M505.12,156.42h1.6M507.51,154.98h1.6M509.90,153.54h1.6M512.29,152.12h1.6M514.68,150.71h1.6M517.06,149.30h1.6M519.45,147.89h1.6M521.84,146.49h1.6M524.23,145.09h1.6M526.62,143.69h1.6M529.01,142.29h1.6M531.40,140.89h1.6M533.79,139.49h1.6M536.18,138.09h1.6M538.57,136.68h1.6M540.95,135.27h1.6M543.34,133.85h1.6M545.73,132.42h1.6M548.12,130.99h1.6M550.51,129.54h1.6M552.90,128.09h1.6M555.29,126.62h1.6M557.68,125.14h1.6M560.07,123.64h1.6M562.46,122.13h1.6M564.84,120.60h1.6M567.23,119.05h1.6M569.62,117.49h1.6M572.01,115.91h1.6M574.40,114.30h1.6M576.79,112.68h1.6M579.18,111.07h1.6M581.57,109.46h1.6M583.96,107.85h1.6M586.35,106.24h1.6M588.73,104.64h1.6M591.12,103.04h1.6M593.51,101.44h1.6M595.90,99.84h1.6M598.29,98.24h1.6M600.68,96.65h1.6M603.07,95.06h1.6M605.46,93.47h1.6M607.85,91.88h1.6M610.24,90.30h1.6M612.62,88.71h1.6M615.01,87.13h1.6M617.40,85.55h1.6M619.79,83.97h1.6M622.18,82.40h1.6M624.57,80.82h1.6M626.96,79.25h1.6M629.35,77.68h1.6M631.74,76.10h1.6M634.13,74.53h1.6M636.51,72.96h1.6M638.90,71.39h1.6M641.29,69.83h1.6M643.68,68.26h1.6M646.07,66.69h1.6M648.46,65.12h1.6M650.85,63.55h1.6M653.24,61.98h1.6M655.63,60.41h1.6M658.02,58.84h1.6M660.40,57.26h1.6M662.79,55.69h1.6M665.18,54.11h1.6M667.57,52.53h1.6M669.96,50.94h1.6M672.35,49.35h1.6M674.74,47.76h1.6M677.13,46.16h1.6M679.52,44.56h1.6M681.91,42.95h1.6M684.29,41.34h1.6M686.68,39.72h1.6M689.07,38.09h1.6M691.46,36.45h1.6M693.85,34.81h1.6M696.24,33.16h1.6M698.63,31.49h1.6M701.02,29.82h1.6M703.41,28.14h1.6M705.80,26.44h1.6M708.18,24.73h1.6M710.57,23.01h1.6M712.96,21.27h1.6M715.35,19.51h1.6M717.74,17.75h1.6" stroke="#ff00ff" stroke-width="1.8" fill="none"/>
<path d="M431.06,205.20h1.6M433.45,203.07h1.6M435.84,200.98h1.6M438.23,198.93h1.6M440.62,196.92h1.6M443.01,194.95h1.6M445.39,193.02h1.6M447.78,191.12h1.6M450.17,189.25h1.6M452.56,187.42h1.6M454.95,185.62h1.6M457.34,183.86h1.6M459.73,182.12h1.6M462.12,180.42h1.6M464.51,178.74h1.6M466.90,177.09h1.6M469.28,175.46h1.6M471.67,173.87h1.6M474.06,172.29h1.6M476.45,170.74h1.6M478.84,169.21h1.6M481.23,167.71h1.6M483.62,166.22h1.6M486.01,164.75h1.6M488.40,163.30h1.6M490.79,161.87h1.6M493.17,160.45h1.6M495.56,159.05h1.6M497.95,157.66h1.6M500.34,156.28h1.6M502.73,154.92h1.6M505.12,153.57h1.6M507.51,152.23h1.6M509.90,150.89h1.6M512.29,149.56h1.6M514.68,148.24h1.6M517.06,146.93h1.6M519.45,145.62h1.6M521.84,144.31h1.6M524.23,143.01h1.6M526.62,141.70h1.6M529.01,140.40h1.6M531.40,139.10h1.6M533.79,137.79h1.6M536.18,136.48h1.6M538.57,135.17h1.6M540.95,133.85h1.6M543.34,132.53h1.6M545.73,131.20h1.6M548.12,129.86h1.6M550.51,128.51h1.6M552.90,127.15h1.6M555.29,125.78h1.6M557.68,124.40h1.6M560.07,123.01h1.6M562.46,121.60h1.6M564.84,120.17h1.6M567.23,118.73h1.6M569.62,117.27h1.6M572.01,115.80h1.6M574.40,114.30h1.6M576.79,112.90h1.6M579.18,111.50h1.6M581.57,110.11h1.6M583.96,108.71h1.6M586.35,107.32h1.6M588.73,105.93h1.6M591.12,104.54h1.6M593.51,103.16h1.6M595.90,101.77h1.6M598.29,100.39h1.6M600.68,99.01h1.6M603.07,97.63h1.6M605.46,96.26h1.6M607.85,94.88h1.6M610.24,93.51h1.6M612.62,92.14h1.6M615.01,90.77h1.6M617.40,89.41h1.6M619.79,88.04h1.6M622.18,86.68h1.6M624.57,85.32h1.6M626.96,83.96h1.6M629.35,82.60h1.6M631.74,81.25h1.6M634.13,79.89h1.6M636.51,78.54h1.6M638.90,77.19h1.6M641.29,75.85h1.6M643.68,74.50h1.6M646.07,73.16h1.6M648.46,71.82h1.6M650.85,70.48h1.6M653.24,69.14h1.6M655.63,67.80h1.6M658.02,66.47h1.6M660.40,65.14h1.6M662.79,63.81h1.6M665.18,62.48h1.6M667.57,61.16h1.6M669.96,59.83h1.6M672.35,58.51h1.6M674.74,57.19h1.6M677.13,55.87h1.6M679.52,54.56h1.6M681.91,53.24h1.6M684.29,51.93h1.6M686.68,50.62h1.6M689.07,49.31h1.6M691.46,48.00h1.6M693.85,46.70h1.6M696.24,45.40h1.6M698.63,44.10h1.6M701.02,42.80h1.6M703.41,41.50h1.6M705.80,40.20h1.6M708.18,38.91h1.6M710.57,37.62h1.6M712.96,36.33h1.6M715.35,35.04h1.6M717.74,33.76h1.6" stroke="#808000" stroke-width="1.8" fill="none"/>
<path d="M431.06,200.96h1.6M433.45,198.93h1.6M435.84,196.94h1.6M438.23,194.99h1.6M440.62,193.07h1.6M443.01,191.19h1.6M445.39,189.35h1.6M447.78,187.54h1.6M450.17,185.76h1.6M452.56,184.01h1.6M454.95,182.30h1.6M457.34,180.61h1.6M459.73,178.96h1.6M462.12,177.33h1.6M464.51,175.73h1.6M466.90,174.16h1.6M469.28,172.61h1.6M471.67,171.09h1.6M474.06,169.59h1.6M476.45,168.11h1.6M478.84,166.65h1.6M481.23,165.22h1.6M483.62,163.80h1.6M486.01,162.40h1.6M488.40,161.02h1.6M490.79,159.65h1.6M493.17,158.30h1.6M495.56,156.96h1.6M497.95,155.64h1.6M500.34,154.33h1.6M502.73,153.03h1.6M505.12,151.74h1.6M507.51,150.46h1.6M509.90,149.18h1.6M512.29,147.92h1.6M514.68,146.66h1.6M517.06,145.41h1.6M519.45,144.16h1.6M521.84,142.91h1.6M524.23,141.67h1.6M526.62,140.42h1.6M529.01,139.18h1.6M531.40,137.94h1.6M533.79,136.69h1.6M536.18,135.45h1.6M538.57,134.20h1.6M540.95,132.94h1.6M543.34,131.68h1.6M545.73,130.41h1.6M548.12,129.13h1.6M550.51,127.85h1.6M552.90,126.55h1.6M555.29,125.25h1.6M557.68,123.93h1.6M560.07,122.60h1.6M562.46,121.26h1.6M564.84,119.90h1.6M567.23,118.53h1.6M569.62,117.14h1.6M572.01,115.73h1.6M574.40,114.30h1.6M576.79,112.95h1.6M579.18,111.60h1.6M581.57,110.25h1.6M583.96,108.91h1.6M586.35,107.57h1.6M588.73,106.23h1.6M591.12,104.89h1.6M593.51,103.55h1.6M595.90,102.21h1.6M598.29,100.88h1.6M600.68,99.55h1.6M603.07,98.22h1.6M605.46,96.89h1.6M607.85,95.56h1.6M610.24,94.24h1.6M612.62,92.92h1.6M615.01,91.60h1.6M617.40,90.28h1.6M619.79,88.96h1.6M622.18,87.65h1.6M624.57,86.33h1.6M626.96,85.02h1.6M629.35,83.71h1.6M631.74,82.41h1.6M634.13,81.10h1.6M636.51,79.80h1.6M638.90,78.50h1.6M641.29,77.20h1.6M643.68,75.90h1.6M646.07,74.60h1.6M648.46,73.31h1.6M650.85,72.02h1.6M653.24,70.72h1.6M655.63,69.44h1.6M658.02,68.15h1.6M660.40,66.86h1.6M662.79,65.58h1.6M665.18,64.30h1.6M667.57,63.02h1.6M669.96,61.74h1.6M672.35,60.47h1.6M674.74,59.19h1.6M677.13,57.92h1.6M679.52,56.65h1.6M681.91,55.38h1.6M684.29,54.12h1.6M686.68,52.85h1.6M689.07,51.59h1.6M691.46,50.33h1.6M693.85,49.07h1.6M696.24,47.81h1.6M698.63,46.56h1.6M701.02,45.31h1.6M703.41,44.05h1.6M705.80,42.80h1.6M708.18,41.56h1.6M710.57,40.31h1.6M712.96,39.07h1.6M715.35,37.83h1.6M717.74,36.58h1.6" stroke="#000080" stroke-width="1.8" fill="none"/>
<path d="M431.06,198.61h1.6M433.45,196.63h1.6M435.84,194.70h1.6M438.23,192.80h1.6M440.62,190.93h1.6M443.01,189.10h1.6M445.39,187.31h1.6M447.78,185.55h1.6M450.17,183.82h1.6M452.56,182.12h1.6M454.95,180.45h1.6M457.34,178.81h1.6M459.73,177.20h1.6M462.12,175.62h1.6M464.51,174.06h1.6M466.90,172.53h1.6M469.28,171.03h1.6M471.67,169.55h1.6M474.06,168.09h1.6M476.45,166.65h1.6M478.84,165.23h1.6M481.23,163.83h1.6M483.62,162.45h1.6M486.01,161.09h1.6M488.40,159.75h1.6M490.79,158.42h1.6M493.17,157.10h1.6M495.56,155.80h1.6M497.95,154.52h1.6M500.34,153.24h1.6M502.73,151.97h1.6M505.12,150.72h1.6M507.51,149.47h1.6M509.90,148.24h1.6M512.29,147.01h1.6M514.68,145.78h1.6M517.06,144.56h1.6M519.45,143.35h1.6M521.84,142.13h1.6M524.23,140.92h1.6M526.62,139.71h1.6M529.01,138.51h1.6M531.40,137.30h1.6M533.79,136.09h1.6M536.18,134.87h1.6M538.57,133.66h1.6M540.95,132.43h1.6M543.34,131.21h1.6M545.73,129.97h1.6M548.12,128.73h1.6M550.51,127.48h1.6M552.90,126.22h1.6M555.29,124.95h1.6M557.68,123.67h1.6M560.07,122.38h1.6M562.46,121.07h1.6M564.84,119.75h1.6M567.23,118.41h1.6M569.62,117.06h1.6M572.01,115.69h1.6M574.40,114.30h1.6M576.79,112.99h1.6M579.18,111.68h1.6M581.57,110.38h1.6M583.96,109.07h1.6M586.35,107.77h1.6M588.73,106.47h1.6M591.12,105.17h1.6M593.51,103.88h1.6M595.90,102.58h1.6M598.29,101.29h1.6M600.68,100.00h1.6M603.07,98.71h1.6M605.46,97.42h1.6M607.85,96.13h1.6M610.24,94.85h1.6M612.62,93.57h1.6M615.01,92.29h1.6M617.40,91.01h1.6M619.79,89.73h1.6M622.18,88.46h1.6M624.57,87.18h1.6M626.96,85.91h1.6M629.35,84.64h1.6M631.74,83.37h1.6M634.13,82.11h1.6M636.51,80.84h1.6M638.90,79.58h1.6M641.29,78.32h1.6M643.68,77.06h1.6M646.07,75.80h1.6M648.46,74.55h1.6M650.85,73.30h1.6M653.24,72.04h1.6M655.63,70.80h1.6M658.02,69.55h1.6M660.40,68.30h1.6M662.79,67.06h1.6M665.18,65.81h1.6M667.57,64.57h1.6M669.96,63.34h1.6M672.35,62.10h1.6M674.74,60.86h1.6M677.13,59.63h1.6M679.52,58.40h1.6M681.91,57.17h1.6M684.29,55.94h1.6M686.68,54.71h1.6M689.07,53.49h1.6M691.46,52.27h1.6M693.85,51.05h1.6M696.24,49.83h1.6M698.63,48.61h1.6M701.02,47.40h1.6M703.41,46.18h1.6M705.80,44.97h1.6M708.18,43.76h1.6M710.57,42.55h1.6M712.96,41.35h1.6M715.35,40.14h1.6M717.74,38.94h1.6" stroke="#800000" stroke-width="1.8" fill="none"/>
<path d="M431.06,196.72h1.6M433.45,194.79h1.6M435.84,192.90h1.6M438.23,191.04h1.6M440.62,189.22h1.6M443.01,187.43h1.6M445.39,185.68h1.6M447.78,183.95h1.6M450.17,182.26h1.6M452.56,180.60h1.6M454.95,178.97h1.6M457.34,177.37h1.6M459.73,175.80h1.6M462.12,174.25h1.6M464.51,172.73h1.6M466.90,171.23h1.6M469.28,169.76h1.6M471.67,168.31h1.6M474.06,166.88h1.6M476.45,165.48h1.6M478.84,164.09h1.6M481.23,162.73h1.6M483.62,161.38h1.6M486.01,160.05h1.6M488.40,158.73h1.6M490.79,157.43h1.6M493.17,156.15h1.6M495.56,154.88h1.6M497.95,153.62h1.6M500.34,152.37h1.6M502.73,151.13h1.6M505.12,149.91h1.6M507.51,148.69h1.6M509.90,147.48h1.6M512.29,146.27h1.6M514.68,145.08h1.6M517.06,143.89h1.6M519.45,142.70h1.6M521.84,141.51h1.6M524.23,140.33h1.6M526.62,139.15h1.6M529.01,137.97h1.6M531.40,136.78h1.6M533.79,135.60h1.6M536.18,134.41h1.6M538.57,133.22h1.6M540.95,132.03h1.6M543.34,130.83h1.6M545.73,129.62h1.6M548.12,128.41h1.6M550.51,127.19h1.6M552.90,125.95h1.6M555.29,124.71h1.6M557.68,123.46h1.6M560.07,122.20h1.6M562.46,120.92h1.6M564.84,119.63h1.6M567.23,118.32h1.6M569.62,117.00h1.6M572.01,115.66h1.6M574.40,114.30h1.6M576.79,112.99h1.6M579.18,111.68h1.6M581.57,110.38h1.6M583.96,109.07h1.6M586.35,107.77h1.6M588.73,106.47h1.6M591.12,105.17h1.6M593.51,103.88h1.6M595.90,102.58h1.6M598.29,101.29h1.6M600.68,100.00h1.6M603.07,98.71h1.6M605.46,97.42h1.6M607.85,96.13h1.6M610.24,94.85h1.6M612.62,93.57h1.6M615.01,92.29h1.6M617.40,91.01h1.6M619.79,89.73h1.6M622.18,88.46h1.6M624.57,87.18h1.6M626.96,85.91h1.6M629.35,84.64h1.6M631.74,83.37h1.6M634.13,82.11h1.6M636.51,80.84h1.6M638.90,79.58h1.6M641.29,78.32h1.6M643.68,77.06h1.6M646.07,75.80h1.6M648.46,74.55h1.6M650.85,73.30h1.6M653.24,72.04h1.6M655.63,70.80h1.6M658.02,69.55h1.6M660.40,68.30h1.6M662.79,67.06h1.6M665.18,65.81h1.6M667.57,64.57h1.6M669.96,63.34h1.6M672.35,62.10h1.6M674.74,60.86h1.6M677.13,59.63h1.6M679.52,58.40h1.6M681.91,57.17h1.6M684.29,55.94h1.6M686.68,54.71h1.6M689.07,53.49h1.6M691.46,52.27h1.6M693.85,51.05h1.6M696.24,49.83h1.6M698.63,48.61h1.6M701.02,47.40h1.6M703.41,46.18h1.6M705.80,44.97h1.6M708.18,43.76h1.6M710.57,42.55h1.6M712.96,41.35h1.6M715.35,40.14h1.6M717.74,38.94h1.6" stroke="#ff4040" stroke-width="1.8" fill="none"/>
<path d="M431.06,194.61h1.6M433.45,192.72h1.6M435.84,190.88h1.6M438.23,189.07h1.6M440.62,187.29h1.6M443.01,185.55h1.6M445.39,183.84h1.6M447.78,182.16h1.6M450.17,180.52h1.6M452.56,178.90h1.6M454.95,177.31h1.6M457.34,175.75h1.6M459.73,174.22h1.6M462.12,172.71h1.6M464.51,171.23h1.6M466.90,169.77h1.6M469.28,168.33h1.6M471.67,166.92h1.6M474.06,165.53h1.6M476.45,164.16h1.6M478.84,162.81h1.6M481.23,161.48h1.6M483.62,160.17h1.6M486.01,158.87h1.6M488.40,157.59h1.6M490.79,156.32h1.6M493.17,155.07h1.6M495.56,153.83h1.6M497.95,152.61h1.6M500.34,151.39h1.6M502.73,150.19h1.6M505.12,148.99h1.6M507.51,147.80h1.6M509.90,146.62h1.6M512.29,145.45h1.6M514.68,144.29h1.6M517.06,143.12h1.6M519.45,141.97h1.6M521.84,140.81h1.6M524.23,139.66h1.6M526.62,138.51h1.6M529.01,137.36h1.6M531.40,136.21h1.6M533.79,135.05h1.6M536.18,133.90h1.6M538.57,132.74h1.6M540.95,131.57h1.6M543.34,130.40h1.6M545.73,129.23h1.6M548.12,128.05h1.6M550.51,126.85h1.6M552.90,125.65h1.6M555.29,124.45h1.6M557.68,123.22h1.6M560.07,121.99h1.6M562.46,120.75h1.6M564.84,119.49h1.6M567.23,118.22h1.6M569.62,116.93h1.6M572.01,115.62h1.6M574.40,114.30h1.6M576.79,113.02h1.6M579.18,111.75h1.6M581.57,110.48h1.6M583.96,109.20h1.6M586.35,107.93h1.6M588.73,106.67h1.6M591.12,105.40h1.6M593.51,104.14h1.6M595.90,102.87h1.6M598.29,101.61h1.6M600.68,100.35h1.6M603.07,99.10h1.6M605.46,97.84h1.6M607.85,96.59h1.6M610.24,95.33h1.6M612.62,94.08h1.6M615.01,92.84h1.6M617.40,91.59h1.6M619.79,90.34h1.6M622.18,89.10h1.6M624.57,87.86h1.6M626.96,86.62h1.6M629.35,85.38h1.6M631.74,84.15h1.6M634.13,82.91h1.6M636.51,81.68h1.6M638.90,80.45h1.6M641.29,79.22h1.6M643.68,77.99h1.6M646.07,76.77h1.6M648.46,75.54h1.6M650.85,74.32h1.6M653.24,73.10h1.6M655.63,71.88h1.6M658.02,70.67h1.6M660.40,69.45h1.6M662.79,68.24h1.6M665.18,67.03h1.6M667.57,65.82h1.6M669.96,64.61h1.6M672.35,63.40h1.6M674.74,62.20h1.6M677.13,61.00h1.6M679.52,59.80h1.6M681.91,58.60h1.6M684.29,57.40h1.6M686.68,56.20h1.6M689.07,55.01h1.6M691.46,53.82h1.6M693.85,52.63h1.6M696.24,51.44h1.6M698.63,50.25h1.6M701.02,49.07h1.6M703.41,47.89h1.6M705.80,46.70h1.6M708.18,45.52h1.6M710.57,44.35h1.6M712.96,43.17h1.6M715.35,42.00h1.6M717.74,40.82h1.6" stroke="#008000" stroke-width="1.8" fill="none"/>
<rect x="427.6" y="6.2" width="295.6" height="216.1" fill="none" stroke="#7a7a7a" stroke-width="1.4"/>
<path d="M431.9,222.3 v2.6 M479.6,222.3 v2.6 M527.4,222.3 v2.6 M575.2,222.3 v2.6 M623.0,222.3 v2.6 M670.8,222.3 v2.6 M718.5,222.3 v2.6 M455.8,222.3 v1.6 M503.5,222.3 v1.6 M551.3,222.3 v1.6 M599.1,222.3 v1.6 M646.9,222.3 v1.6 M694.7,222.3 v1.6 M427.6,208.5 h-2.6 M427.6,161.4 h-2.6 M427.6,114.3 h-2.6 M427.6,67.2 h-2.6 M427.6,20.1 h-2.6 M427.6,184.9 h-1.6 M427.6,137.8 h-1.6 M427.6,90.8 h-1.6 M427.6,43.6 h-1.6" stroke="#7a7a7a" stroke-width="1.1" fill="none"/>
<text x="423" y="212.1" text-anchor="end" font-size="10.4" fill="#1e1e1e" stroke="#1e1e1e" stroke-width="0.28">-20</text>
<text x="423" y="165.0" text-anchor="end" font-size="10.4" fill="#1e1e1e" stroke="#1e1e1e" stroke-width="0.28">-10</text>
<text x="423" y="117.9" text-anchor="end" font-size="10.4" fill="#1e1e1e" stroke="#1e1e1e" stroke-width="0.28">0</text>
<text x="423" y="70.8" text-anchor="end" font-size="10.4" fill="#1e1e1e" stroke="#1e1e1e" stroke-width="0.28">10</text>
<text x="423" y="23.7" text-anchor="end" font-size="10.4" fill="#1e1e1e" stroke="#1e1e1e" stroke-width="0.28">20</text>
<text x="431.9" y="234.7" text-anchor="middle" font-size="10.4" fill="#1e1e1e" stroke="#1e1e1e" stroke-width="0.28">-3</text>
<text x="479.6" y="234.7" text-anchor="middle" font-size="10.4" fill="#1e1e1e" stroke="#1e1e1e" stroke-width="0.28">-2</text>
<text x="527.4" y="234.7" text-anchor="middle" font-size="10.4" fill="#1e1e1e" stroke="#1e1e1e" stroke-width="0.28">-1</text>
<text x="575.2" y="234.7" text-anchor="middle" font-size="10.4" fill="#1e1e1e" stroke="#1e1e1e" stroke-width="0.28">0</text>
<text x="623.0" y="234.7" text-anchor="middle" font-size="10.4" fill="#1e1e1e" stroke="#1e1e1e" stroke-width="0.28">1</text>
<text x="670.8" y="234.7" text-anchor="middle" font-size="10.4" fill="#1e1e1e" stroke="#1e1e1e" stroke-width="0.28">2</text>
<text x="718.5" y="234.7" text-anchor="middle" font-size="10.4" fill="#1e1e1e" stroke="#1e1e1e" stroke-width="0.28">3</text>
<text x="431" y="33.8" font-size="15.6" font-weight="bold" fill="#000">(B)</text>
<path d="M653,92.1 h4.6 M663.6,92.1 h4.4" stroke="#c8c8c8" stroke-width="0.9"/>
<rect x="659.9" y="91.2" width="1.8" height="1.8" fill="#000000"/>
<text x="669.3" y="94.6" font-size="7.6" fill="#1e1e1e" stroke="#1e1e1e" stroke-width="0.1">V<tspan font-size="5.2" dy="3.2">g</tspan><tspan dy="-3.2"> = 0 V</tspan></text>
<path d="M653,104.7 h4.6 M663.6,104.7 h4.4" stroke="#ffa0a0" stroke-width="0.9"/>
<rect x="659.9" y="103.8" width="1.8" height="1.8" fill="#ff0000"/>
<text x="669.3" y="107.2" font-size="7.6" fill="#1e1e1e" stroke="#1e1e1e" stroke-width="0.1">V<tspan font-size="5.2" dy="3.2">g</tspan><tspan dy="-3.2"> = 1 V</tspan></text>
<path d="M653,117.3 h4.6 M663.6,117.3 h4.4" stroke="#a8a8ff" stroke-width="0.9"/>
<rect x="659.9" y="116.4" width="1.8" height="1.8" fill="#0000ff"/>
<text x="669.3" y="119.8" font-size="7.6" fill="#1e1e1e" stroke="#1e1e1e" stroke-width="0.1">V<tspan font-size="5.2" dy="3.2">g</tspan><tspan dy="-3.2"> = 2 V</tspan></text>
<path d="M653,129.8 h4.6 M663.6,129.8 h4.4" stroke="#99cccc" stroke-width="0.9"/>
<rect x="659.9" y="128.9" width="1.8" height="1.8" fill="#008080"/>
<text x="669.3" y="132.3" font-size="7.6" fill="#1e1e1e" stroke="#1e1e1e" stroke-width="0.1">V<tspan font-size="5.2" dy="3.2">g</tspan><tspan dy="-3.2"> = 3 V</tspan></text>
<path d="M653,142.4 h4.6 M663.6,142.4 h4.4" stroke="#ffa0ff" stroke-width="0.9"/>
<rect x="659.9" y="141.5" width="1.8" height="1.8" fill="#ff00ff"/>
<text x="669.3" y="144.9" font-size="7.6" fill="#1e1e1e" stroke="#1e1e1e" stroke-width="0.1">V<tspan font-size="5.2" dy="3.2">g</tspan><tspan dy="-3.2"> = 4 V</tspan></text>
<path d="M653,155.0 h4.6 M663.6,155.0 h4.4" stroke="#cccc99" stroke-width="0.9"/>
<rect x="659.9" y="154.1" width="1.8" height="1.8" fill="#808000"/>
<text x="669.3" y="157.5" font-size="7.6" fill="#1e1e1e" stroke="#1e1e1e" stroke-width="0.1">V<tspan font-size="5.2" dy="3.2">g</tspan><tspan dy="-3.2"> = 5 V</tspan></text>
<path d="M653,167.6 h4.6 M663.6,167.6 h4.4" stroke="#9999cc" stroke-width="0.9"/>
<rect x="659.9" y="166.7" width="1.8" height="1.8" fill="#000080"/>
<text x="669.3" y="170.1" font-size="7.6" fill="#1e1e1e" stroke="#1e1e1e" stroke-width="0.1">V<tspan font-size="5.2" dy="3.2">g</tspan><tspan dy="-3.2"> = 6 V</tspan></text>
<path d="M653,180.2 h4.6 M663.6,180.2 h4.4" stroke="#cc9999" stroke-width="0.9"/>
<rect x="659.9" y="179.3" width="1.8" height="1.8" fill="#800000"/>
<text x="669.3" y="182.7" font-size="7.6" fill="#1e1e1e" stroke="#1e1e1e" stroke-width="0.1">V<tspan font-size="5.2" dy="3.2">g</tspan><tspan dy="-3.2"> = 7 V</tspan></text>
<path d="M653,192.7 h4.6 M663.6,192.7 h4.4" stroke="#ffb0b0" stroke-width="0.9"/>
<rect x="659.9" y="191.8" width="1.8" height="1.8" fill="#ff4040"/>
<text x="669.3" y="195.2" font-size="7.6" fill="#1e1e1e" stroke="#1e1e1e" stroke-width="0.1">V<tspan font-size="5.2" dy="3.2">g</tspan><tspan dy="-3.2"> = 8 V</tspan></text>
<path d="M653,205.3 h4.6 M663.6,205.3 h4.4" stroke="#99cc99" stroke-width="0.9"/>
<rect x="659.9" y="204.4" width="1.8" height="1.8" fill="#008000"/>
<text x="669.3" y="207.8" font-size="7.6" fill="#1e1e1e" stroke="#1e1e1e" stroke-width="0.1">V<tspan font-size="5.2" dy="3.2">g</tspan><tspan dy="-3.2"> = 9 V</tspan></text>
<path d="M467.5,211.6 L483.6,151" stroke="#333" stroke-width="0.9" fill="none"/>
<path d="M485.2,146.8 L486,153.8 L481.6,152.6 Z" fill="#111"/>
<text x="472" y="136.8" font-size="10.3" fill="#1e1e1e" stroke="#1e1e1e" stroke-width="0.28">V<tspan font-size="6.6" dy="4.6">g</tspan><tspan dy="-4.6"> = 9V</tspan></text>
<text x="471.6" y="213.1" font-size="10.3" fill="#1e1e1e" stroke="#1e1e1e" stroke-width="0.28">V<tspan font-size="6.6" dy="4.6">g</tspan><tspan dy="-4.6"> = 0V</tspan></text>
<text x="552.5" y="251.5" font-size="16.5" fill="#1e1e1e" stroke="#1e1e1e" stroke-width="0.28">V<tspan font-size="9.5" dy="7">ds</tspan><tspan dy="-7" dx="-1.7"> (V)</tspan></text>
<text transform="translate(399.3,153.2) rotate(-90)" font-size="17" fill="#1e1e1e" stroke="#1e1e1e" stroke-width="0.28">I<tspan font-size="9.5" dy="5">ds</tspan><tspan dy="-5" dx="-2.2"> (mA)</tspan></text>
<path d="M97.7,282.5 V518.1 M263.4,282.5 V518.1 M60.9,282.5 V518.1 M72.0,282.5 V518.1 M81.6,282.5 V518.1 M90.1,282.5 V518.1 M147.6,282.5 V518.1 M176.8,282.5 V518.1 M197.5,282.5 V518.1 M213.5,282.5 V518.1 M226.6,282.5 V518.1 M237.7,282.5 V518.1 M247.3,282.5 V518.1 M255.8,282.5 V518.1 M313.3,282.5 V518.1 M342.5,282.5 V518.1 M47.9,316.2 H348.0 M47.9,349.8 H348.0 M47.9,383.5 H348.0 M47.9,417.2 H348.0 M47.9,450.9 H348.0 M47.9,484.5 H348.0" stroke="#f2f2f2" stroke-width="0.7" stroke-dasharray="1 2" fill="none"/>
<clipPath id="cc"><rect x="48" y="282.5" width="300" height="235.6"/></clipPath>
<g clip-path="url(#cc)"><path d="M47.80,293.80 L97.70,295.20 L145.00,296.60 L148.06,296.76 L151.17,296.92 L154.31,297.08 L157.46,297.24 L160.61,297.39 L163.75,297.55 L166.86,297.71 L169.92,297.87 L172.92,298.04 L175.84,298.22 L178.67,298.41 L181.40,298.60 L184.00,298.80 L186.47,299.01 L188.84,299.22 L191.13,299.43 L193.35,299.65 L195.54,299.88 L197.70,300.11 L199.87,300.35 L202.07,300.60 L204.31,300.85 L206.61,301.12 L209.00,301.40 L211.48,301.69 L214.02,302.01 L216.61,302.33 L219.24,302.67 L221.89,303.02 L224.56,303.37 L227.22,303.73 L229.86,304.08 L232.47,304.43 L235.04,304.77 L237.56,305.09 L240.00,305.40 L242.39,305.70 L244.77,306.01 L247.12,306.31 L249.44,306.61 L251.73,306.91 L253.99,307.20 L256.22,307.48 L258.40,307.74 L260.55,307.99 L262.65,308.21 L264.70,308.42 L266.70,308.60 L268.64,308.76 L270.52,308.91 L272.34,309.04 L274.11,309.16 L275.84,309.27 L277.53,309.35 L279.20,309.42 L280.85,309.46 L282.49,309.48 L284.12,309.48 L285.75,309.45 L287.40,309.40 L289.05,309.32 L290.68,309.20 L292.30,309.06 L293.91,308.90 L295.51,308.71 L297.10,308.50 L298.68,308.28 L300.24,308.04 L301.80,307.79 L303.34,307.53 L304.87,307.27 L306.40,307.00 L307.91,306.72 L309.39,306.43 L310.85,306.13 L312.29,305.81 L313.72,305.48 L315.15,305.14 L316.58,304.80 L318.01,304.44 L319.45,304.09 L320.91,303.73 L322.39,303.36 L323.90,303.00 L325.49,302.62 L327.20,302.20 L328.99,301.76 L330.83,301.31 L332.67,300.85 L334.49,300.40 L336.25,299.96 L337.92,299.54 L339.45,299.16 L340.82,298.82 L341.98,298.53 L342.90,298.30" stroke="#000080" stroke-width="2.5" fill="none" stroke-linejoin="round"/><path d="M47.80,300.70 L97.70,302.20 L145.00,303.40 L148.06,303.63 L151.17,303.87 L154.31,304.10 L157.46,304.33 L160.61,304.57 L163.75,304.80 L166.86,305.03 L169.92,305.27 L172.92,305.50 L175.84,305.73 L178.67,305.97 L181.40,306.20 L184.00,306.43 L186.47,306.64 L188.84,306.85 L191.13,307.06 L193.35,307.27 L195.54,307.48 L197.70,307.69 L199.87,307.92 L202.07,308.16 L204.31,308.42 L206.61,308.70 L209.00,309.00 L211.50,309.33 L214.11,309.70 L216.80,310.09 L219.53,310.50 L222.29,310.92 L225.05,311.36 L227.78,311.79 L230.44,312.22 L233.03,312.64 L235.50,313.05 L237.83,313.44 L240.00,313.80 L241.98,314.14 L243.78,314.46 L245.44,314.76 L246.99,315.06 L248.45,315.34 L249.85,315.62 L251.23,315.89 L252.61,316.17 L254.03,316.44 L255.52,316.72 L257.10,317.01 L258.80,317.30 L260.64,317.61 L262.61,317.93 L264.66,318.26 L266.77,318.60 L268.92,318.94 L271.08,319.28 L273.22,319.60 L275.30,319.92 L277.31,320.23 L279.22,320.51 L280.99,320.77 L282.60,321.00 L283.94,321.21 L284.96,321.39 L285.74,321.56 L286.36,321.72 L286.91,321.86 L287.46,321.98 L288.10,322.09 L288.89,322.19 L289.93,322.28 L291.29,322.36 L293.06,322.43 L295.30,322.50 L298.20,322.55 L301.76,322.59 L305.86,322.61 L310.34,322.61 L315.07,322.61 L319.89,322.59 L324.67,322.58 L329.27,322.56 L333.53,322.54 L337.32,322.52 L340.49,322.50 L342.90,322.50" stroke="#808000" stroke-width="2.5" fill="none" stroke-linejoin="round"/><path d="M47.80,297.20 L97.70,303.50 L145.00,309.70 L146.87,309.96 L148.71,310.18 L150.53,310.37 L152.35,310.55 L154.16,310.73 L155.99,310.92 L157.83,311.14 L159.70,311.40 L161.60,311.72 L163.54,312.09 L165.54,312.55 L167.60,313.10 L169.74,313.74 L171.95,314.44 L174.23,315.22 L176.56,316.05 L178.92,316.93 L181.31,317.86 L183.69,318.83 L186.07,319.84 L188.43,320.88 L190.74,321.94 L193.01,323.01 L195.20,324.10 L197.36,325.23 L199.52,326.44 L201.67,327.70 L203.80,329.00 L205.92,330.33 L207.99,331.68 L210.03,333.03 L212.02,334.37 L213.95,335.68 L215.81,336.94 L217.60,338.16 L219.30,339.30 L220.92,340.40 L222.47,341.48 L223.96,342.54 L225.39,343.57 L226.75,344.58 L228.06,345.56 L229.32,346.51 L230.54,347.41 L231.71,348.28 L232.84,349.10 L233.94,349.88 L235.00,350.60 L235.99,351.24 L236.88,351.79 L237.69,352.25 L238.44,352.66 L239.14,353.03 L239.82,353.37 L240.49,353.71 L241.19,354.06 L241.91,354.45 L242.69,354.89 L243.55,355.40 L244.50,356.00 L245.55,356.69 L246.67,357.47 L247.86,358.30 L249.10,359.18 L250.37,360.10 L251.67,361.03 L252.97,361.97 L254.27,362.90 L255.54,363.80 L256.78,364.66 L257.97,365.46 L259.10,366.20 L260.18,366.88 L261.24,367.55 L262.28,368.19 L263.30,368.80 L264.29,369.39 L265.27,369.95 L266.22,370.48 L267.16,370.99 L268.07,371.46 L268.97,371.91 L269.84,372.32 L270.70,372.70 L271.53,373.04 L272.32,373.35 L273.08,373.62 L273.81,373.86 L274.53,374.07 L275.23,374.25 L275.92,374.41 L276.61,374.54 L277.29,374.65 L277.98,374.75 L278.68,374.83 L279.40,374.90 L280.12,374.96 L280.85,375.00 L281.57,375.03 L282.30,375.04 L283.02,375.04 L283.74,375.01 L284.47,374.95 L285.19,374.87 L285.92,374.75 L286.64,374.60 L287.37,374.42 L288.10,374.20 L288.83,373.95 L289.56,373.66 L290.30,373.35 L291.03,373.01 L291.76,372.65 L292.50,372.24 L293.24,371.81 L293.97,371.34 L294.70,370.84 L295.44,370.30 L296.17,369.72 L296.90,369.10 L297.63,368.43 L298.37,367.70 L299.12,366.91 L299.86,366.08 L300.61,365.21 L301.35,364.32 L302.09,363.41 L302.81,362.49 L303.53,361.57 L304.24,360.66 L304.93,359.77 L305.60,358.90 L306.26,358.05 L306.92,357.20 L307.56,356.35 L308.20,355.49 L308.83,354.64 L309.45,353.79 L310.05,352.94 L310.64,352.09 L311.21,351.24 L311.76,350.39 L312.29,349.54 L312.80,348.70 L313.25,347.90 L313.64,347.16 L313.96,346.47 L314.26,345.80 L314.53,345.14 L314.81,344.45 L315.10,343.72 L315.43,342.93 L315.82,342.05 L316.28,341.07 L316.84,339.96 L317.50,338.70 L318.28,337.28 L319.15,335.72 L320.11,334.03 L321.14,332.23 L322.22,330.36 L323.35,328.41 L324.50,326.42 L325.67,324.41 L326.84,322.39 L327.99,320.39 L329.12,318.42 L330.20,316.50 L331.30,314.54 L332.46,312.45 L333.67,310.27 L334.90,308.04 L336.13,305.81 L337.34,303.61 L338.51,301.49 L339.61,299.49 L340.62,297.65 L341.52,296.01 L342.29,294.61 L342.90,293.50" stroke="#008080" stroke-width="2.5" fill="none" stroke-linejoin="round"/><path d="M47.80,302.80 L48.20,302.82 L48.61,302.85 L49.01,302.87 L49.41,302.89 L49.82,302.92 L50.22,302.94 L50.63,302.97 L51.03,302.99 L51.43,303.01 L51.84,303.04 L52.24,303.06 L52.64,303.08 L53.05,303.11 L53.45,303.13 L53.85,303.15 L54.26,303.18 L54.66,303.20 L55.07,303.23 L55.47,303.25 L55.87,303.27 L56.00,303.28 M65.00,303.81 L65.16,303.82 L65.56,303.84 L65.96,303.86 L66.37,303.89 L66.77,303.91 L67.17,303.93 L67.58,303.96 L67.98,303.98 L68.39,304.01 L68.79,304.03 L69.19,304.05 L69.60,304.08 L70.00,304.10 L70.40,304.12 L70.80,304.13 L71.20,304.15 L71.60,304.16 L72.00,304.18 L72.40,304.19 L72.80,304.21 L73.20,304.22 L73.60,304.24 L74.00,304.26 L74.40,304.27 L74.80,304.29 L75.00,304.29 M84.00,304.64 L84.40,304.66 L84.80,304.68 L85.20,304.69 L85.60,304.71 L86.00,304.72 L86.40,304.74 L86.80,304.75 L87.20,304.77 L87.60,304.78 L88.00,304.80 L88.40,304.83 L88.80,304.87 L89.20,304.90 L89.60,304.93 L90.00,304.97 L90.40,305.00 L90.80,305.03 L91.20,305.07 L91.60,305.10 L92.00,305.13 L92.40,305.17 L92.80,305.20 L93.00,305.22 M126.00,307.97 L126.40,308.00 L126.80,308.03 L127.20,308.07 L127.60,308.10 L128.00,308.13 L128.40,308.17 L128.80,308.20 L129.20,308.23 L129.60,308.27 L130.00,308.30 L130.40,308.33 L130.80,308.36 L131.20,308.39 L131.60,308.42 L132.00,308.45 L132.40,308.48 L132.80,308.51 L133.20,308.54 L133.60,308.57 L134.00,308.60 L134.40,308.63 L134.80,308.66 L135.00,308.68 M144.10,309.36 L144.40,309.38 L144.80,309.41 L145.20,309.44 L145.60,309.47 L146.00,309.50 L146.43,309.56 L146.87,309.63 L147.30,309.69 L147.74,309.75 L148.17,309.82 L148.30,309.84 M162.80,311.94 L162.82,311.94 L163.27,312.01 L163.73,312.08 L164.19,312.15 L164.65,312.22 L165.11,312.30 L165.58,312.37 L166.05,312.45 L166.53,312.52 L167.00,312.60 L167.49,312.68 L167.98,312.76 L168.47,312.84 L168.97,312.92 L169.38,312.99 L169.79,313.06 L170.20,313.13 L170.61,313.19 L171.02,313.26 L171.44,313.33 L171.86,313.40 L172.29,313.48 L172.40,313.49 M187.60,316.17 L187.78,316.20 L188.19,316.27 L188.68,316.37 L189.17,316.46 L189.66,316.55 L190.15,316.64 L190.61,316.73 L191.07,316.82 L191.54,316.91 L192.00,317.00 L192.44,317.09 L192.88,317.17 L193.32,317.26 L193.76,317.34 L194.18,317.43 L194.60,317.51 L195.03,317.59 L195.45,317.68 L195.86,317.76 L195.90,317.77 M205.50,319.83 L205.95,319.94 L206.40,320.05 L206.86,320.17 L207.31,320.28 L207.76,320.40 L208.21,320.52 L208.66,320.63 L209.11,320.76 L209.55,320.88 L210.00,321.00 L210.44,321.13 L210.88,321.26 L211.31,321.39 L211.74,321.52 L212.16,321.65 L212.59,321.79 L213.00,321.93 L213.41,322.07 L213.80,322.20 M220.00,324.53 L220.18,324.60 L220.73,324.81 L221.28,325.02 L221.83,325.22 L222.37,325.42 L222.92,325.62 L223.46,325.81 L224.00,326.00 L224.53,326.18 L225.05,326.35 L225.55,326.52 L226.05,326.68 L226.52,326.83 L226.90,326.96 M232.40,328.67 L232.62,328.74 L233.15,328.90 L233.68,329.06 L234.24,329.24 L234.80,329.42 L235.20,329.54 L235.60,329.67 L236.00,329.80 L236.43,329.94 L236.85,330.07 L237.28,330.21 L237.73,330.35 L238.17,330.49 L238.62,330.64 L239.09,330.78 L239.55,330.93 L240.00,331.07" stroke="#ff00ff" stroke-width="2.5" fill="none"/><path d="M242.50,331.87 L242.94,332.01 L243.44,332.17 L243.95,332.33 L244.46,332.49 L244.84,332.62 L245.23,332.74 L245.62,332.87 L246.00,332.99 L246.40,333.12 L246.79,333.24 L247.18,333.37 L247.58,333.50 L247.98,333.63 L248.37,333.75 L248.77,333.88 L249.17,334.01 L249.57,334.14 L249.97,334.27 L250.37,334.40 L250.77,334.53 L251.18,334.67 L251.58,334.80 L251.98,334.93 L252.39,335.06 L252.79,335.20 L253.19,335.33 L253.60,335.47 L254.00,335.60 L254.41,335.74 L254.82,335.88 L255.23,336.02 L255.65,336.16 L256.07,336.31 L256.50,336.46 L256.92,336.61 L257.35,336.76 L257.79,336.92 L258.22,337.07 L258.66,337.23 L259.10,337.39 L259.54,337.55 L259.99,337.71 L260.43,337.87 L260.88,338.03 L261.33,338.20 L261.78,338.36 L262.23,338.53 L262.68,338.69 L263.13,338.85 L263.58,339.02 L264.03,339.18 L264.48,339.34 L264.93,339.50 L265.38,339.67 L265.83,339.83 L266.28,339.99 L266.72,340.14 L267.17,340.30 L267.61,340.46 L268.06,340.61 L268.49,340.76 L268.93,340.91 L269.36,341.06 L269.80,341.20 L270.22,341.34 L270.65,341.48 L271.07,341.62 L271.50,341.76 L271.91,341.88 L272.32,342.01 L272.72,342.13 L273.13,342.26 L273.53,342.37 L273.92,342.48 L274.31,342.59 L274.70,342.70 L275.20,342.83 L275.70,342.96 L276.19,343.09 L276.67,343.20 L277.15,343.32 L277.63,343.44 L278.09,343.54 L278.55,343.65 L279.01,343.75 L279.46,343.85 L279.91,343.94 L280.36,344.03 L280.80,344.12 L281.23,344.20 L281.67,344.28 L282.10,344.36 L282.53,344.43 L282.96,344.51 L283.38,344.57 L283.80,344.64 L284.23,344.70 L284.65,344.76 L285.07,344.82 L285.49,344.88 L285.90,344.93 L286.32,344.98 L286.74,345.03 L287.00,345.06" stroke="#ff00ff" stroke-width="2.5" fill="none" stroke-dasharray="7 4"/><path d="M287.00,345.06 L287.17,345.08 L287.59,345.12 L288.01,345.17 L288.44,345.21 L288.87,345.25 L289.29,345.29 L289.73,345.33 L290.16,345.36 L290.60,345.40 L291.04,345.43 L291.48,345.46 L291.91,345.50 L292.35,345.52 L292.78,345.55 L293.22,345.58 L293.65,345.60 L294.08,345.62 L294.52,345.65 L294.95,345.66 L295.38,345.68 L295.81,345.69 L296.24,345.70 L296.67,345.71 L297.10,345.72 L297.54,345.72 L297.97,345.72 L298.40,345.72 L298.83,345.72 L299.27,345.71 L299.70,345.71 L300.14,345.69 L300.57,345.68 L301.01,345.66 L301.45,345.64 L301.89,345.62 L302.33,345.59 L302.78,345.56 L303.22,345.53 L303.67,345.49 L304.12,345.45 L304.57,345.41 L305.02,345.36 L305.48,345.31 L305.94,345.25 L306.40,345.20 L306.86,345.14 L307.33,345.07 L307.79,345.01 L308.26,344.94 L308.73,344.87 L309.20,344.80 L309.67,344.73 L310.15,344.65 L310.62,344.58 L311.10,344.49 L311.57,344.41 L312.05,344.32 L312.53,344.23 L313.01,344.14 L313.50,344.04 L313.98,343.94 L314.47,343.83 L314.95,343.73 L315.44,343.62 L315.93,343.50 L316.42,343.39 L316.91,343.26 L317.40,343.14 L317.89,343.01 L318.39,342.87 L318.88,342.73 L319.38,342.60 L319.88,342.44 L320.38,342.29 L320.88,342.14 L321.38,341.98 L321.88,341.81 L322.38,341.64 L322.76,341.51 L323.14,341.37 L323.52,341.24 L323.90,341.10 L324.30,340.94 L324.70,340.78 L325.09,340.63 L325.49,340.47 L325.92,340.28 L326.35,340.09 L326.77,339.91 L327.20,339.72 L327.65,339.51 L328.09,339.30 L328.54,339.09 L328.99,338.88 L329.36,338.70 L329.72,338.52 L330.09,338.34 L330.46,338.16 L330.83,337.98 L331.20,337.79 L331.56,337.61 L331.93,337.42 L332.30,337.23 L332.67,337.04 L333.04,336.85 L333.40,336.66 L333.77,336.47 L334.13,336.28 L334.49,336.09 L334.93,335.86 L335.37,335.63 L335.81,335.39 L336.25,335.16 L336.67,334.93 L337.09,334.71 L337.50,334.49 L337.92,334.26 L338.30,334.06 L338.68,333.85 L339.07,333.64 L339.45,333.43 L339.91,333.19 L340.36,332.94 L340.82,332.70 L341.20,332.49 L341.59,332.28 L341.98,332.08 L342.44,331.84 L342.90,331.60" stroke="#ff00ff" stroke-width="2.5" fill="none"/><path d="M48.00,303.43 L48.20,303.47 L48.59,303.54 L48.99,303.60 L49.38,303.67 L49.78,303.74 L50.18,303.81 L50.57,303.88 L50.97,303.95 L51.36,304.01 L51.76,304.08 L52.16,304.15 L52.55,304.22 L52.95,304.29 L53.34,304.36 L53.74,304.42 L54.14,304.49 L54.53,304.56 L54.93,304.63 L55.32,304.70 L55.72,304.77 L56.12,304.83 L56.51,304.90 L56.91,304.97 L57.30,305.04 L57.70,305.11 L58.10,305.17 L58.10,305.18 M63.40,306.09 L63.64,306.13 L64.04,306.20 L64.43,306.27 L64.83,306.33 L65.20,306.40 M69.80,307.19 L69.98,307.22 L70.37,307.29 L70.77,307.36 L71.17,307.43 L71.56,307.50 L71.96,307.56 L72.35,307.63 L72.75,307.70 L73.15,307.77 L73.54,307.84 L73.94,307.90 L74.33,307.97 L74.73,308.04 L75.13,308.11 L75.52,308.18 L75.92,308.25 L76.31,308.31 L76.71,308.38 L77.11,308.45 L77.50,308.52 L77.90,308.59 L78.29,308.66 L78.69,308.72 L79.09,308.79 L79.48,308.86 L79.88,308.93 L80.27,309.00 L80.67,309.07 L80.90,309.10 M85.60,309.91 L85.82,309.95 L86.22,310.02 L86.61,310.09 L87.01,310.16 L87.40,310.22 M90.50,310.76 L90.57,310.77 L90.97,310.84 L91.36,310.91 L91.76,310.98 L92.16,311.04 L92.55,311.11 L92.95,311.18 L93.34,311.25 L93.74,311.32 L94.14,311.39 L94.53,311.45 L94.93,311.52 L95.32,311.59 L95.72,311.66 L96.12,311.73 L96.51,311.80 L96.91,311.86 L97.30,311.93 L97.70,312.00 L98.08,312.13 L98.10,312.14 M126.40,321.83 L126.52,321.87 L126.90,322.00 L127.26,322.19 L127.61,322.38 L127.97,322.57 L128.33,322.76 L128.68,322.95 L129.04,323.14 L129.40,323.33 L129.76,323.52 L130.11,323.71 L130.47,323.90 L130.83,324.09 L131.18,324.28 L131.54,324.47 L131.90,324.66 L132.25,324.84 L132.61,325.03 L132.97,325.22 L133.32,325.41 L133.68,325.60 L134.04,325.79 L134.39,325.98 L134.75,326.17 L135.11,326.36 L135.47,326.55 L135.82,326.74 L136.18,326.93 L136.54,327.12 L136.89,327.31 L137.00,327.37 M142.00,330.02 L142.25,330.16 L142.60,330.34 L142.96,330.53 L143.32,330.72 L143.67,330.91 L144.00,331.09 M163.40,342.24 L163.69,342.43 L164.04,342.67 L164.39,342.90 L164.75,343.15 L165.10,343.39 L165.46,343.64 L165.82,343.89 L166.17,344.14 L166.54,344.41 L166.90,344.69 L167.27,344.96 L167.63,345.23 L168.00,345.50 L168.32,345.75 L168.63,345.99 L168.95,346.24 L169.26,346.49 L169.58,346.74 L169.90,346.98 L170.23,347.25 L170.56,347.52 L170.88,347.78 L171.21,348.05 L171.54,348.32 L171.87,348.59 L172.21,348.87 L172.55,349.15 L172.89,349.44 L173.10,349.61 M187.20,362.31 L187.39,362.49 L187.71,362.80 L188.04,363.12 L188.36,363.43 L188.68,363.73 L188.99,364.04 L189.30,364.34 L189.61,364.64 L189.92,364.95 L190.23,365.25 L190.53,365.54 L190.82,365.83 L191.12,366.12 L191.41,366.42 L191.71,366.71 L192.00,367.00 L192.33,367.34 L192.67,367.68 L193.00,368.02 L193.34,368.36 L193.67,368.70 L193.99,369.04 L194.31,369.38 L194.63,369.72 L194.95,370.05 L195.27,370.39 L195.57,370.73 L195.88,371.06 L196.19,371.40 L196.49,371.73 L196.80,372.07 L197.10,372.40 L197.39,372.73 L197.69,373.06 L197.98,373.40 L198.10,373.53 M205.40,382.20 L205.61,382.46 L205.87,382.77 L206.13,383.09 L206.39,383.40 L206.65,383.71 L206.91,384.02 L207.17,384.34 L207.43,384.65 L207.69,384.96 L207.95,385.27 L208.22,385.58 L208.48,385.88 L208.74,386.19 L209.00,386.50 L209.26,386.80 L209.52,387.11 L209.78,387.41 L210.04,387.72 L210.31,388.02 L210.63,388.40 L210.95,388.77 L211.27,389.15 L211.60,389.53 L211.92,389.90 L212.24,390.27 L212.55,390.64 L212.87,391.01 L213.19,391.38 L213.40,391.63 M220.00,399.44 L220.15,399.62 L220.44,399.97 L220.72,400.32 L221.01,400.67 L221.29,401.02 L221.57,401.37 L221.85,401.72 L222.13,402.07 L222.41,402.41 L222.68,402.76 L222.95,403.11 L223.23,403.45 L223.50,403.80 L223.77,404.14 L224.03,404.49 L224.30,404.83 L224.56,405.18 L224.82,405.52 L225.07,405.86 L225.33,406.21 L225.59,406.55 L225.83,406.89 L226.08,407.23 L226.33,407.57 L226.58,407.91 L226.82,408.25 L227.06,408.59 L227.20,408.78 M231.60,415.07 L231.86,415.44 L232.16,415.87 L232.46,416.30 L232.76,416.73 L233.06,417.16 L233.37,417.58 L233.67,418.01 L233.98,418.44 L234.28,418.86 L234.59,419.28 L234.90,419.70 L235.21,420.12 L235.53,420.55 L235.84,420.97 L236.08,421.30 L236.32,421.62 L236.56,421.95 L236.81,422.27 L237.05,422.60 L237.29,422.93 L237.54,423.26 L237.78,423.59 L238.03,423.92 L238.27,424.24 L238.50,424.55 M242.10,429.31 L242.26,429.52 L242.57,429.92 L242.86,430.30 L243.16,430.68 L243.45,431.06 L243.73,431.42 L244.01,431.77 L244.29,432.13 L244.55,432.46 L244.81,432.78 L245.08,433.11 L245.44,433.56 L245.80,434.00 L246.12,434.39 L246.45,434.78 L246.73,435.11 L247.02,435.44 L247.52,436.01 L247.97,436.51 L248.39,436.94 L248.79,437.34 L249.18,437.71 L249.40,437.91" stroke="#0000ff" stroke-width="2.5" fill="none"/><path d="M252.30,440.54 L252.44,440.67 L252.76,440.97 L253.09,441.28 L253.43,441.59 L253.78,441.92 L254.12,442.24 L254.48,442.57 L254.84,442.90 L255.20,443.23 L255.57,443.56 L255.94,443.88 L256.32,444.21 L256.70,444.53 L257.08,444.85 L257.46,445.16 L257.85,445.46 L258.24,445.76 L258.63,446.05 L259.02,446.33 L259.41,446.60 L259.81,446.85 L260.20,447.10 L260.60,447.34 L261.00,447.58 L261.42,447.82 L261.83,448.06 L262.26,448.30 L262.68,448.54 L263.11,448.77 L263.54,449.01 L263.98,449.23 L264.42,449.45 L264.86,449.66 L265.30,449.86 L265.74,450.05 L266.18,450.24 L266.62,450.40 L267.06,450.56 L267.49,450.69 L267.92,450.83 L268.34,450.93 L268.77,451.03 L269.18,451.09 L269.60,451.16 L270.00,451.18 L270.40,451.20 L271.18,451.16 L271.95,451.06 L272.71,450.89 L273.46,450.67 L274.20,450.38 L274.57,450.21 L274.93,450.04 L275.29,449.85 L275.65,449.66 L276.00,449.44 L276.36,449.22 L276.71,448.98 L277.06,448.75 L277.40,448.49 L277.75,448.23 L278.09,447.96 L278.43,447.68 L278.76,447.39 L279.10,447.10 L279.43,446.79 L279.76,446.47 L280.09,446.12 L280.42,445.78 L280.74,445.40 L281.06,445.03 L281.38,444.63 L281.69,444.23 L282.00,443.81 L282.32,443.39 L282.62,442.96 L282.93,442.52 L283.23,442.07 L283.54,441.61 L283.83,441.15 L284.13,440.69 L284.42,440.22 L284.71,439.75 L285.00,439.27 L285.29,438.80 L285.57,438.32 L285.85,437.85 L286.12,437.37 L286.40,436.90 L286.67,436.42 L286.94,435.95 L287.19,435.46 L287.45,434.97 L287.70,434.47 L287.96,433.97 L288.20,433.46 L288.44,432.95 L288.68,432.44 L288.92,431.92 L289.16,431.40 L289.39,430.87 L289.63,430.35 L289.86,429.82 L290.09,429.29 L290.32,428.76 L290.55,428.23 L290.79,427.69 L291.02,427.16 L291.25,426.63 L291.49,426.09 L291.72,425.56 L291.96,425.03 L292.20,424.50 L292.44,423.99 L292.68,423.48 L292.92,423.00 L293.15,422.52 L293.39,422.07 L293.62,421.61 L293.86,421.16 L294.09,420.71 L294.32,420.26 L294.56,419.81 L294.79,419.35 L295.03,418.88 L295.26,418.39 L295.50,417.90 L295.74,417.38 L295.98,416.86 L296.14,416.47 L296.30,416.09 L296.47,415.71 L296.63,415.29 L296.80,414.87 L296.96,414.45 L297.13,413.99 L297.30,413.52 L297.47,413.06 L297.61,412.67 L297.74,412.28 L297.87,411.89 L298.00,411.50 L298.13,411.08 L298.26,410.65 L298.40,410.23 L298.53,409.81 L298.66,409.36 L298.79,408.92 L298.92,408.47 L299.05,408.03 L299.18,407.56 L299.31,407.09 L299.45,406.62 L299.58,406.15 L299.68,405.76 L299.79,405.37 L299.89,404.98 L300.00,404.58 L300.10,404.19 L300.21,403.78 L300.32,403.37 L300.42,402.95 L300.53,402.54 L300.64,402.13 L300.75,401.70 L300.86,401.27 L300.97,400.84 L301.08,400.41 L301.19,399.97 L301.30,399.52 L301.41,399.07 L301.53,398.62 L301.64,398.17 L301.75,397.72 L301.85,397.33 L301.95,396.94 L302.05,396.55 L302.14,396.16 L302.24,395.77 L302.34,395.38 L302.44,394.97 L302.55,394.56 L302.65,394.16 L302.75,393.75 L302.85,393.34 L302.95,392.93 L303.06,392.51 L303.17,392.08 L303.28,391.66 L303.38,391.24 L303.49,390.81 L303.60,390.39 L303.71,389.95 L303.83,389.51 L303.94,389.07 L304.05,388.63 L304.17,388.19 L304.28,387.74 L304.38,387.35 L304.49,386.96 L304.59,386.57 L304.69,386.18 L304.79,385.78 L304.90,385.39 L305.00,385.00 L305.11,384.59 L305.22,384.17 L305.33,383.76 L305.44,383.34 L305.55,382.93 L305.66,382.51 L305.77,382.10 L305.87,381.71 L305.97,381.32 L306.08,380.94 L306.18,380.55 L306.28,380.16 L306.38,379.77 L306.48,379.39 L306.59,379.00 L306.69,378.59 L306.80,378.19 L306.91,377.78 L307.02,377.37 L307.12,376.96 L307.23,376.56 L307.34,376.15 L307.45,375.74 L307.56,375.32 L307.67,374.90 L307.78,374.47 L307.89,374.05 L308.01,373.63 L308.12,373.20 L308.23,372.78 L308.34,372.36 L308.44,371.97 L308.55,371.58 L308.65,371.19 L308.75,370.81 L308.85,370.42 L308.95,370.03 L309.06,369.64 L309.16,369.26 L309.26,368.87 L309.37,368.48 L309.47,368.08 L309.57,367.69 L309.68,367.29 L309.78,366.90 L309.89,366.50 L309.99,366.11 L310.10,365.71 L310.20,365.32 L310.31,364.92 L310.41,364.52 L310.52,364.12 L310.62,363.73 L310.73,363.33 L310.83,362.93 L310.94,362.53 L311.04,362.13 L311.15,361.73 L311.26,361.33 L311.36,360.94 L311.47,360.54 L311.57,360.14 L311.68,359.74 L311.79,359.34 L311.89,358.94 L312.00,358.54 L312.10,358.14 L312.21,357.75 L312.31,357.35 L312.42,356.96 L312.53,356.56 L312.63,356.17 L312.74,355.77 L312.84,355.38 L312.95,354.98 L313.05,354.59 L313.16,354.20 L313.26,353.81 L313.37,353.42 L313.47,353.03 L313.57,352.64 L313.68,352.25 L313.78,351.86 L313.89,351.48 L313.99,351.09 L314.11,350.66 L314.22,350.24 L314.34,349.81 L314.45,349.38 L314.56,348.96 L314.68,348.53 L314.79,348.11 L314.91,347.68 L315.02,347.27 L315.13,346.86 L315.24,346.45 L315.35,346.04 L315.47,345.63 L315.58,345.22 L315.69,344.81 L315.80,344.40 L315.91,344.00 L316.01,343.60 L316.12,343.19 L316.23,342.79 L316.34,342.39 L316.44,341.99 L316.55,341.59 L316.66,341.19 L316.76,340.78 L316.87,340.38 L316.97,339.98 L317.07,339.58 L317.18,339.17 L317.28,338.77 L317.39,338.37 L317.49,337.97 L317.59,337.56 L317.69,337.16 L317.80,336.76 L317.90,336.36 L318.00,335.96 L318.10,335.55 L318.20,335.15 L318.30,334.75 L318.40,334.35 L318.50,333.95 L318.60,333.55 L318.70,333.15 L318.80,332.75 L318.90,332.35 L319.00,331.96 L319.10,331.56 L319.20,331.16 L319.30,330.76 L319.40,330.37 L319.50,329.97 L319.60,329.58 L319.70,329.18 L319.80,328.78 L319.90,328.39 L320.00,328.00 L320.10,327.61 L320.20,327.22 L320.30,326.83 L320.40,326.43 L320.50,326.04 L320.60,325.65 L320.70,325.26 L320.82,324.82 L320.93,324.38 L321.05,323.95 L321.16,323.51 L321.28,323.07 L321.40,322.63 L321.51,322.19 L321.63,321.76 L321.75,321.33 L321.87,320.90 L321.99,320.47 L322.10,320.04 L322.22,319.61 L322.34,319.18 L322.46,318.76 L322.59,318.34 L322.71,317.92 L322.83,317.50 L322.95,317.08 L323.07,316.66 L323.20,316.24 L323.32,315.84 L323.45,315.43 L323.58,315.02 L323.71,314.61 L323.83,314.21 L323.96,313.80 L324.09,313.39 L324.22,313.00 L324.35,312.61 L324.49,312.21 L324.62,311.82 L324.75,311.43 L324.89,311.03 L325.02,310.64 L325.16,310.26 L325.30,309.89 L325.44,309.51 L325.58,309.13 L325.72,308.75 L325.86,308.38 L326.00,308.00 L326.15,307.63 L326.31,307.26 L326.46,306.89 L326.62,306.52 L326.77,306.15 L326.92,305.78 L327.08,305.41 L327.25,305.04 L327.42,304.67 L327.59,304.29 L327.76,303.92 L327.93,303.55 L328.10,303.18 L328.28,302.81 L328.46,302.44 L328.64,302.08 L328.83,301.71 L329.01,301.34 L329.19,300.98 L329.38,300.61 L329.56,300.24 L329.75,299.88 L329.94,299.52 L330.14,299.16 L330.33,298.80 L330.52,298.44 L330.71,298.08 L330.90,297.72 L331.10,297.37 L331.29,297.02 L331.49,296.67 L331.69,296.32 L331.88,295.97 L332.08,295.62 L332.27,295.27 L332.50,294.88 L332.73,294.49 L332.96,294.10 L333.18,293.71 L333.41,293.32 L333.64,292.93 L333.86,292.55 L334.08,292.18 L334.30,291.81 L334.52,291.44 L334.75,291.07 L334.97,290.70 L335.18,290.36 L335.39,290.02 L335.60,289.67 L335.81,289.33 L336.02,288.98 L336.23,288.64 L336.46,288.26 L336.70,287.88 L336.93,287.50 L337.16,287.12 L337.40,286.75 L337.65,286.33 L337.91,285.90 L338.17,285.48 L338.43,285.06 L338.65,284.70 L338.87,284.33 L339.09,283.97 L339.31,283.60 L339.54,283.20 L339.77,282.80 L340.00,282.40" stroke="#0000ff" stroke-width="2.5" fill="none" stroke-dasharray="6.5 3.5"/><path d="M47.80,304.10 L97.70,315.90 L126.90,329.90 L147.60,343.60 L148.92,344.76 L150.25,345.92 L151.59,347.10 L152.93,348.28 L154.28,349.46 L155.62,350.63 L156.95,351.80 L158.27,352.96 L159.56,354.10 L160.84,355.22 L162.09,356.32 L163.30,357.40 L164.48,358.44 L165.64,359.44 L166.77,360.41 L167.88,361.35 L168.97,362.28 L170.05,363.21 L171.11,364.13 L172.16,365.07 L173.20,366.03 L174.24,367.01 L175.27,368.03 L176.30,369.10 L177.32,370.20 L178.31,371.30 L179.29,372.43 L180.25,373.56 L181.20,374.72 L182.15,375.90 L183.10,377.10 L184.05,378.34 L185.01,379.60 L185.99,380.90 L186.98,382.23 L188.00,383.60 L189.04,385.03 L190.11,386.52 L191.20,388.07 L192.30,389.67 L193.41,391.29 L194.53,392.93 L195.64,394.58 L196.74,396.22 L197.84,397.85 L198.92,399.44 L199.97,401.00 L201.00,402.50 L202.00,403.95 L202.98,405.35 L203.94,406.72 L204.88,408.06 L205.81,409.38 L206.73,410.70 L207.65,412.02 L208.57,413.34 L209.49,414.68 L210.41,416.05 L211.35,417.45 L212.30,418.90 L213.27,420.40 L214.25,421.94 L215.23,423.52 L216.23,425.12 L217.23,426.74 L218.23,428.37 L219.22,430.00 L220.20,431.62 L221.18,433.22 L222.14,434.79 L223.08,436.32 L224.00,437.80 L224.90,439.24 L225.77,440.67 L226.64,442.07 L227.48,443.46 L228.32,444.82 L229.14,446.16 L229.97,447.49 L230.79,448.79 L231.61,450.07 L232.43,451.33 L233.26,452.58 L234.10,453.80 L234.95,455.01 L235.79,456.20 L236.64,457.38 L237.49,458.54 L238.34,459.69 L239.19,460.81 L240.04,461.90 L240.90,462.97 L241.75,464.00 L242.60,465.00 L243.45,465.97 L244.30,466.90 L245.15,467.79 L245.98,468.64 L246.82,469.45 L247.65,470.24 L248.48,470.99 L249.32,471.71 L250.16,472.41 L251.00,473.09 L251.86,473.74 L252.72,474.37 L253.60,474.99 L254.50,475.60 L255.42,476.20 L256.37,476.81 L257.35,477.40 L258.34,477.99 L259.34,478.55 L260.34,479.09 L261.34,479.59 L262.33,480.04 L263.29,480.45 L264.23,480.80 L265.14,481.09 L266.00,481.30 L266.82,481.45 L267.61,481.57 L268.37,481.64 L269.10,481.66 L269.82,481.63 L270.52,481.54 L271.21,481.41 L271.90,481.21 L272.58,480.96 L273.28,480.64 L273.98,480.25 L274.70,479.80 L275.43,479.28 L276.16,478.70 L276.90,478.07 L277.63,477.37 L278.36,476.61 L279.10,475.79 L279.84,474.91 L280.57,473.97 L281.30,472.97 L282.04,471.90 L282.77,470.78 L283.50,469.60 L284.23,468.34 L284.97,466.99 L285.71,465.55 L286.46,464.05 L287.20,462.49 L287.94,460.88 L288.68,459.22 L289.41,457.54 L290.13,455.83 L290.83,454.12 L291.52,452.40 L292.20,450.70 L292.86,448.98 L293.52,447.20 L294.16,445.39 L294.79,443.54 L295.42,441.68 L296.03,439.80 L296.64,437.92 L297.23,436.06 L297.81,434.21 L298.39,432.40 L298.95,430.62 L299.50,428.90 L300.03,427.26 L300.53,425.71 L301.01,424.23 L301.47,422.80 L301.93,421.38 L302.37,419.96 L302.82,418.52 L303.28,417.01 L303.75,415.44 L304.24,413.76 L304.75,411.95 L305.30,410.00 L305.87,407.92 L306.45,405.76 L307.05,403.51 L307.67,401.19 L308.29,398.79 L308.93,396.32 L309.58,393.77 L310.24,391.15 L310.92,388.46 L311.60,385.71 L312.30,382.89 L313.00,380.00 L313.71,377.07 L314.43,374.12 L315.16,371.12 L315.90,368.06 L316.65,364.93 L317.41,361.72 L318.19,358.42 L318.98,355.01 L319.78,351.47 L320.60,347.80 L321.44,343.98 L322.30,340.00 L323.22,335.63 L324.22,330.75 L325.29,325.49 L326.40,319.97 L327.52,314.33 L328.63,308.70 L329.71,303.21 L330.74,297.99 L331.68,293.16 L332.52,288.87 L333.24,285.24 L333.80,282.40" stroke="#ff0000" stroke-width="2.5" fill="none" stroke-linejoin="round"/><path d="M47.80,304.60 L48.19,304.71 L48.58,304.82 L48.97,304.93 L49.36,305.04 L49.75,305.15 L50.14,305.26 L50.53,305.37 L50.92,305.48 L51.31,305.59 L51.70,305.70 L52.10,305.80 L52.49,305.91 L52.88,306.02 L53.27,306.13 L53.66,306.24 L54.05,306.35 L54.44,306.46 L54.83,306.57 L55.22,306.68 L55.61,306.79 L56.00,306.90 M65.70,310.24 L65.96,310.33 L66.34,310.46 L66.72,310.59 L67.11,310.73 L67.49,310.86 L67.87,310.99 L68.26,311.12 L68.64,311.25 L69.02,311.39 L69.40,311.52 L69.79,311.65 L70.17,311.78 L70.55,311.91 L70.94,312.04 L71.32,312.18 L71.70,312.31 L72.09,312.44 L72.47,312.57 L72.85,312.70 L73.23,312.84 L73.62,312.97 L74.00,313.10 M84.30,315.75 L84.49,315.80 L84.88,315.90 L85.27,316.00 L85.66,316.10 L86.04,316.20 L86.43,316.30 L86.82,316.40 L87.21,316.50 L87.60,316.60 L87.99,316.70 L88.38,316.80 L88.76,316.90 L89.15,317.00 L89.54,317.10 L89.93,317.20 L90.32,317.30 L90.71,317.40 L91.10,317.50 L91.48,317.60 L91.87,317.70 L92.26,317.80 L92.60,317.89 M126.40,337.97 L126.56,338.08 L126.90,338.30 L127.19,338.58 L127.48,338.86 L127.76,339.15 L128.05,339.43 L128.34,339.71 L128.62,339.99 L128.91,340.27 L129.20,340.56 L129.49,340.84 L129.78,341.12 L130.06,341.40 L130.35,341.68 L130.64,341.97 L130.93,342.25 L131.21,342.53 L131.50,342.81 L131.79,343.09 L132.07,343.38 L132.36,343.66 L132.65,343.94 L132.94,344.22 L133.22,344.50 L133.51,344.78 L133.80,345.07 L134.09,345.35 L134.38,345.63 L134.66,345.91 L134.95,346.19 L135.24,346.48 L135.30,346.54 M144.40,355.46 L144.44,355.50 L144.72,355.78 L145.01,356.06 L145.30,356.34 L145.59,356.63 L145.88,356.91 L146.16,357.19 L146.45,357.47 L146.74,357.75 L147.03,358.04 L147.31,358.32 L147.60,358.60 L147.87,358.97 L148.00,359.15 M163.30,380.35 L163.35,380.43 L163.60,380.80 L163.84,381.17 L164.08,381.53 L164.32,381.90 L164.56,382.27 L164.81,382.64 L165.04,383.01 L165.28,383.37 L165.51,383.74 L165.75,384.11 L165.99,384.48 L166.22,384.85 L166.45,385.22 L166.68,385.58 L166.92,385.95 L167.15,386.32 L167.38,386.69 L167.60,387.06 L167.83,387.43 L168.06,387.80 L168.29,388.17 L168.51,388.53 L168.74,388.90 L168.96,389.27 L169.00,389.33 M175.60,400.53 L175.79,400.85 L175.99,401.20 L176.19,401.55 L176.39,401.90 L176.60,402.25 L176.80,402.60 L177.00,402.95 L177.20,403.30 L177.40,403.65 L177.50,403.82 M186.90,420.99 L186.94,421.05 L187.15,421.42 L187.37,421.78 L187.58,422.14 L187.80,422.50 L188.01,422.84 L188.23,423.19 L188.44,423.53 L188.66,423.87 L188.94,424.30 L189.22,424.74 L189.51,425.17 L189.79,425.58 L190.06,425.99 L190.34,426.40 L190.62,426.80 L190.90,427.19 L191.17,427.59 L191.45,427.97 L191.72,428.35 L191.99,428.73 L192.27,429.10 L192.54,429.47 L192.81,429.84 L193.07,430.20 L193.34,430.57 L193.40,430.65 M205.80,450.67 L206.00,451.00 L206.21,451.34 L206.43,451.69 L206.64,452.03 L206.94,452.50 L207.24,452.96 L207.53,453.40 L207.81,453.83 L208.09,454.24 L208.37,454.65 L208.64,455.05 L208.91,455.45 L209.19,455.85 L209.46,456.25 L209.75,456.67 L210.03,457.08 L210.33,457.52 L210.62,457.96 L210.90,458.38 M219.60,473.52 L219.63,473.58 L219.83,473.94 L220.02,474.29 L220.22,474.65 L220.41,475.00 L220.61,475.35 L220.80,475.71 L221.00,476.06 L221.23,476.47 L221.47,476.89 L221.70,477.30 L221.94,477.72 L222.17,478.13 L222.41,478.52 L222.64,478.92 L222.87,479.31 L223.10,479.71 L223.33,480.10 L223.56,480.47 L223.79,480.83 L224.01,481.20 L224.24,481.57 L224.47,481.93 L224.74,482.34 L225.01,482.76 L225.29,483.17 L225.56,483.58 L225.82,483.94 L226.08,484.29 L226.34,484.65 L226.60,485.00 L226.90,485.37 M232.70,490.84 L232.82,490.92 L233.28,491.22 L233.73,491.49 L234.18,491.76 L234.62,492.01 L235.07,492.25 L235.51,492.47 L235.95,492.70 L236.39,492.90 L236.83,493.11 L237.27,493.30 L237.70,493.50 L237.80,493.54 M240.70,494.41 L241.09,494.48 L241.50,494.53 L241.91,494.58 L242.31,494.60 L242.72,494.62 L243.12,494.63 L243.52,494.63 L244.31,494.60 L245.10,494.53 L245.87,494.44 L246.64,494.33 L247.40,494.20 L248.00,494.09 M250.90,493.41 L251.01,493.38 L251.71,493.12 L252.39,492.82 L253.08,492.47 L253.42,492.26 L253.76,492.04 L254.10,491.80 L254.44,491.55 L254.78,491.26 L255.12,490.97 L255.46,490.63 L255.80,490.30 L256.14,489.92 L256.49,489.53 L256.70,489.27 M260.42,483.60 L260.59,483.32 L260.81,482.91 L261.03,482.50 L261.25,482.09 L261.47,481.68 L261.69,481.26 L261.91,480.84 L262.12,480.42 L262.34,479.99 L262.55,479.57 L262.76,479.14 L262.97,478.71 L263.18,478.29 L263.39,477.86 L263.59,477.43 L263.80,477.00 L264.00,476.56 L264.12,476.30 M266.02,471.80 L266.19,471.37 L266.33,470.99 L266.48,470.61 L266.62,470.24 L266.77,469.86 L266.91,469.48 L267.05,469.10 L267.19,468.71 L267.33,468.33 L267.47,467.95 L267.61,467.57 L267.75,467.18 L267.88,466.80 L268.02,466.42 L268.15,466.04 L268.29,465.66 L268.42,465.27 L268.60,464.77 L268.77,464.27 L268.94,463.77 L269.11,463.28 L269.28,462.79 L269.45,462.30 L269.61,461.82 L269.77,461.35 L269.93,460.87 L270.09,460.41 L270.23,460.00 M273.33,450.00 L273.40,449.76 L273.50,449.37 L273.61,448.97 L273.72,448.58 L273.83,448.18 L273.94,447.78 L274.04,447.38 L274.15,446.97 L274.26,446.56 L274.37,446.16 L274.48,445.74 L274.59,445.32 L274.70,444.90 L274.81,444.47 L274.92,444.04 L275.03,443.61 L275.14,443.16 L275.24,442.72 L275.35,442.28 L275.46,441.83 L275.56,441.38 L275.67,440.93 L275.77,440.47 L275.88,440.02 L275.98,439.56 L276.08,439.10 L276.19,438.64 L276.29,438.19 L276.33,438.00 M278.81,427.30 L278.91,426.92 L279.01,426.53 L279.16,425.96 L279.32,425.39 L279.47,424.83 L279.62,424.27 L279.77,423.72 L279.93,423.17 L280.08,422.63 L280.23,422.09 L280.38,421.55 L280.53,421.02 L280.68,420.49 L280.83,419.96 L280.98,419.44 L281.13,418.92 L281.28,418.40 L281.42,417.87 L281.57,417.36 L281.71,416.84 L281.83,416.40 M285.08,404.50 L285.09,404.48 L285.20,404.00 L285.29,403.59 L285.38,403.19 L285.47,402.78 L285.56,402.37 L285.66,401.92 L285.75,401.47 L285.85,401.02 L285.95,400.57 L286.03,400.18 L286.11,399.78 L286.19,399.39 L286.28,399.00 L286.36,398.61 L286.44,398.19 L286.53,397.78 L286.61,397.36 L286.70,396.95 L286.79,396.53 L286.87,396.10 L286.96,395.66 L287.05,395.23 L287.14,394.79 L287.23,394.36 L287.32,393.91 L287.38,393.60 M290.30,379.20 L290.40,378.74 L290.49,378.28 L290.59,377.82 L290.69,377.36 L290.78,376.92 L290.88,376.47 L290.97,376.03 L291.06,375.59 L291.15,375.16 L291.25,374.73 L291.34,374.30 L291.43,373.87 L291.52,373.45 L291.61,373.03 L291.70,372.61 L291.79,372.20 L291.87,371.79 L291.96,371.38 L292.05,370.96 L292.14,370.55 L292.22,370.15 L292.31,369.74 L292.40,369.34 L292.45,369.10 M294.45,360.00 L294.50,359.78 L294.60,359.34 L294.70,358.90 L294.80,358.44 L294.91,357.98 L295.01,357.52 L295.12,357.06 L295.23,356.58 L295.34,356.10 L295.44,355.62 L295.55,355.14 L295.65,354.74 L295.74,354.35 L295.83,353.95 L295.92,353.56 L296.01,353.17 L296.10,352.76 L296.19,352.36 L296.29,351.96 L296.38,351.56 L296.47,351.16 L296.57,350.75 L296.66,350.34 L296.76,349.94 L296.79,349.80 M299.17,339.60 L299.22,339.37 L299.32,338.94 L299.42,338.50 L299.52,338.07 L299.63,337.63 L299.72,337.22 L299.81,336.81 L299.91,336.41 L300.00,336.00 L300.11,335.49 L300.22,334.99 L300.34,334.48 L300.43,334.01 L300.53,333.53 L300.63,333.05 L300.72,332.60 L300.81,332.15 L300.90,331.70 L300.98,331.27 L301.06,330.85 L301.14,330.42 L301.21,330.01 L301.29,329.60 L301.36,329.19 L301.44,328.80 L301.51,328.41 L301.59,328.01 L301.59,328.00 M302.58,323.60 L302.60,323.54 L302.76,322.98 L302.93,322.43 L303.11,321.86 L303.30,321.30 L303.44,320.92 L303.58,320.54 L303.72,320.17 L303.87,319.79 L304.02,319.42 L304.18,319.05 L304.34,318.68 L304.50,318.31 L304.66,317.95 L304.83,317.58 L305.00,317.22 L305.17,316.86 L305.44,316.32 L305.45,316.30 M306.54,314.20 L306.82,313.68 L307.10,313.16 L307.38,312.64 L307.66,312.13 L307.95,311.62 L308.23,311.11 L308.51,310.60 L308.79,310.10 L309.06,309.60 L309.33,309.10 L309.60,308.60 L309.87,308.10 L310.13,307.60 M311.66,304.70 L311.76,304.52 L312.03,304.01 L312.31,303.50 L312.58,303.00 L312.85,302.51 L313.12,302.02 L313.39,301.54 L313.66,301.08 L313.93,300.61 L314.20,300.18 L314.46,299.74 L314.72,299.33 L314.98,298.92 L315.00,298.90 M316.76,296.70 L316.97,296.51 L317.44,296.18 L317.90,295.92 L318.36,295.71 L318.81,295.52 L319.25,295.34 L319.70,295.13 L320.15,294.86 L320.59,294.52 L321.04,294.07 L321.26,293.80 M322.63,291.60 L322.74,291.38 L323.00,290.88 L323.18,290.52 L323.36,290.16 L323.54,289.80 L323.71,289.42 L323.89,289.04 L324.07,288.66 L324.24,288.27 L324.42,287.89 L324.59,287.50 L324.76,287.12 L324.93,286.74 L325.10,286.36 L325.34,285.81 L325.57,285.26 L325.79,284.75 L326.01,284.24 L326.21,283.79 L326.40,283.34 L326.57,282.96 L326.73,282.58 L327.00,282.00" stroke="#000" stroke-width="2.5" fill="none"/><path d="M270.4,491.5 L291.6,296" stroke="#ff0000" stroke-width="2.3" fill="none"/><path d="M293.7,284.6 L296.9,298 L289.9,297.2 Z" fill="#ff0000"/></g>
<rect x="47.9" y="282.5" width="300.1" height="235.6" fill="none" stroke="#7a7a7a" stroke-width="1.4"/>
<path d="M97.7,518.1 v2.6 M263.4,518.1 v2.6 M60.9,518.1 v1.6 M72.0,518.1 v1.6 M81.6,518.1 v1.6 M90.1,518.1 v1.6 M147.6,518.1 v1.6 M176.8,518.1 v1.6 M197.5,518.1 v1.6 M213.5,518.1 v1.6 M226.6,518.1 v1.6 M237.7,518.1 v1.6 M247.3,518.1 v1.6 M255.8,518.1 v1.6 M313.3,518.1 v1.6 M342.5,518.1 v1.6 M47.9,282.5 h-2.6 M47.9,316.2 h-2.6 M47.9,349.8 h-2.6 M47.9,383.5 h-2.6 M47.9,417.2 h-2.6 M47.9,450.9 h-2.6 M47.9,484.5 h-2.6 M47.9,518.2 h-2.6 M47.9,299.3 h-1.6 M47.9,333.0 h-1.6 M47.9,366.7 h-1.6 M47.9,400.3 h-1.6 M47.9,434.0 h-1.6 M47.9,467.7 h-1.6 M47.9,501.4 h-1.6" stroke="#7a7a7a" stroke-width="1.1" fill="none"/>
<text x="43.4" y="285.5" text-anchor="end" font-size="10.4" fill="#1e1e1e" stroke="#1e1e1e" stroke-width="0.28">6.75</text>
<text x="43.4" y="319.2" text-anchor="end" font-size="10.4" fill="#1e1e1e" stroke="#1e1e1e" stroke-width="0.28">6.70</text>
<text x="43.4" y="352.8" text-anchor="end" font-size="10.4" fill="#1e1e1e" stroke="#1e1e1e" stroke-width="0.28">6.65</text>
<text x="43.4" y="386.5" text-anchor="end" font-size="10.4" fill="#1e1e1e" stroke="#1e1e1e" stroke-width="0.28">6.60</text>
<text x="43.4" y="420.2" text-anchor="end" font-size="10.4" fill="#1e1e1e" stroke="#1e1e1e" stroke-width="0.28">6.55</text>
<text x="43.4" y="453.9" text-anchor="end" font-size="10.4" fill="#1e1e1e" stroke="#1e1e1e" stroke-width="0.28">6.50</text>
<text x="43.4" y="487.5" text-anchor="end" font-size="10.4" fill="#1e1e1e" stroke="#1e1e1e" stroke-width="0.28">6.45</text>
<text x="43.4" y="521.2" text-anchor="end" font-size="10.4" fill="#1e1e1e" stroke="#1e1e1e" stroke-width="0.28">6.40</text>
<text x="97.4" y="531" text-anchor="middle" font-size="10.6" fill="#1e1e1e" stroke="#1e1e1e" stroke-width="0.28">0.1</text>
<text x="263.2" y="531" text-anchor="middle" font-size="10.6" fill="#1e1e1e" stroke="#1e1e1e" stroke-width="0.28">1</text>
<path d="M54.2,394.0 H79" stroke="#000" stroke-width="2.5" stroke-dasharray="9.7 9.1"/>
<text x="80.8" y="397.6" font-size="8.4" fill="#1e1e1e" stroke="#1e1e1e" stroke-width="0.1">Urea</text>
<path d="M54.2,408.1 H79" stroke="#ff0000" stroke-width="2.5"/>
<text x="80.8" y="411.8" font-size="8.4" fill="#1e1e1e" stroke="#1e1e1e" stroke-width="0.1">ATZ-2 x 10<tspan font-size="5" dy="-3.6">-4</tspan><tspan dy="3.6">ppb</tspan></text>
<path d="M54.2,422.3 H79" stroke="#0000ff" stroke-width="2.5" stroke-dasharray="11.3 5.5 2.5 20"/>
<text x="80.8" y="425.9" font-size="8.4" fill="#1e1e1e" stroke="#1e1e1e" stroke-width="0.1">ATZ-2 x 10<tspan font-size="5" dy="-3.6">-3</tspan><tspan dy="3.6">ppb</tspan></text>
<path d="M54.2,436.4 H79" stroke="#008080" stroke-width="2.5"/>
<text x="80.8" y="440.1" font-size="8.4" fill="#1e1e1e" stroke="#1e1e1e" stroke-width="0.1">ATZ-2 x 10<tspan font-size="5" dy="-3.6">-2</tspan><tspan dy="3.6">ppb</tspan></text>
<path d="M54.2,450.6 H79" stroke="#ff00ff" stroke-width="2.5" stroke-dasharray="9.7 9.1"/>
<text x="80.8" y="454.2" font-size="8.4" fill="#1e1e1e" stroke="#1e1e1e" stroke-width="0.1">ATZ-2 x 10<tspan font-size="5" dy="-3.6">-1</tspan><tspan dy="3.6">ppb</tspan></text>
<path d="M54.2,464.8 H79" stroke="#808000" stroke-width="2.5"/>
<text x="80.8" y="468.4" font-size="8.4" fill="#1e1e1e" stroke="#1e1e1e" stroke-width="0.1">ATZ-2 ppb</text>
<path d="M54.2,478.9 H79" stroke="#000080" stroke-width="2.5"/>
<text x="80.8" y="482.5" font-size="8.4" fill="#1e1e1e" stroke="#1e1e1e" stroke-width="0.1">ATZ-20 ppb</text>
<text x="246.8" y="297.2" font-size="8.1" fill="#3030ff" stroke="#3030ff" stroke-width="0.1">20 ppb</text>
<text x="247.6" y="326.2" font-size="8.1" fill="#ff2020" stroke="#ff2020" stroke-width="0.1">2 ppb</text>
<text x="231.2" y="503.2" font-size="8.4" fill="#222" stroke="#222" stroke-width="0.1">Urea</text>
<text x="275.4" y="489.8" font-size="8.4" fill="#3030ff" stroke="#3030ff" stroke-width="0.1">2 x 10<tspan font-size="5" dy="-3.6">-4</tspan><tspan dy="3.6">ppb</tspan></text>
<text x="320.2" y="507.2" font-size="15.2" font-weight="bold" fill="#000">(C)</text>
<text x="178" y="540.4" font-size="16.5" fill="#1e1e1e" stroke="#1e1e1e" stroke-width="0.28">V<tspan font-size="9.5" dy="6.6">g</tspan><tspan dy="-6.6" dx="-1.8"> (V)</tspan></text>
<text transform="translate(13.3,436) rotate(-90)" font-size="17" fill="#1e1e1e" stroke="#1e1e1e" stroke-width="0.28">I<tspan font-size="9.5" dy="5">ds</tspan><tspan dy="-5"> (mA)</tspan></text>
</svg>
</body></html>
